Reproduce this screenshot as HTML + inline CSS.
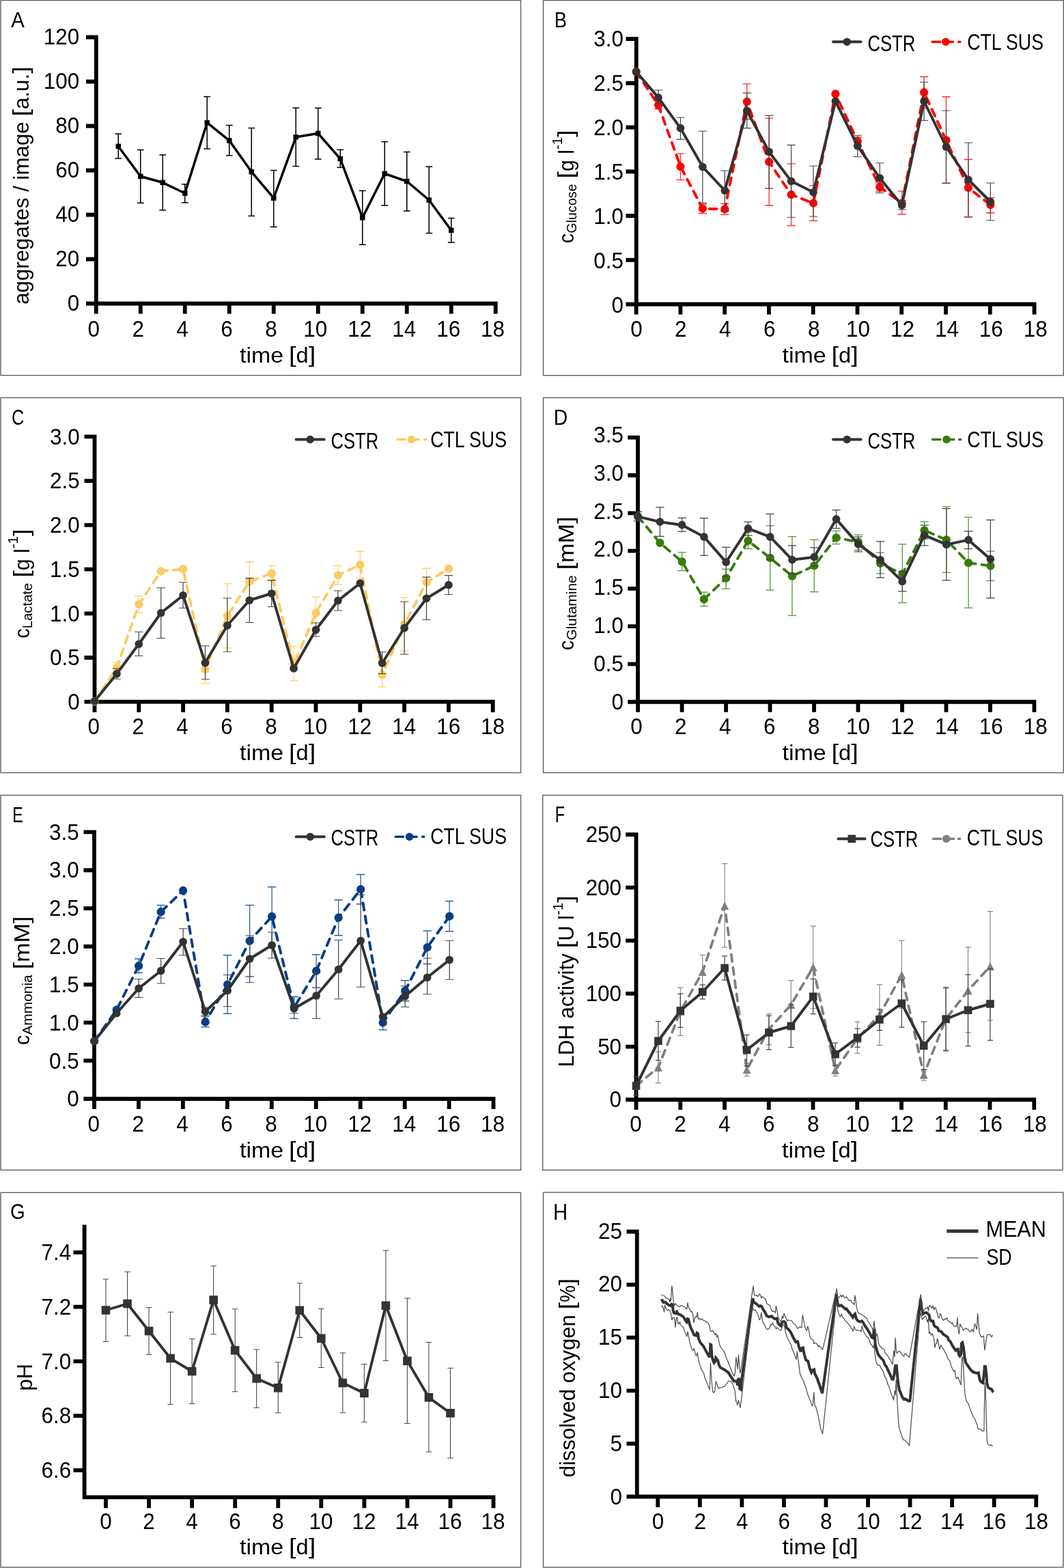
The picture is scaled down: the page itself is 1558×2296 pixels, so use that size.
<!DOCTYPE html>
<html lang="en"><head><meta charset="utf-8"><title>Figure: CSTR vs CTL SUS time courses</title>
<style>html,body{margin:0;padding:0;background:#fff}body{width:1558px;height:2296px;overflow:hidden}svg{display:block}text{font-family:'Liberation Sans', sans-serif;}</style>
</head><body>
<svg width="1558" height="2296" viewBox="0 0 1558 2296" role="img" aria-label="Eight-panel figure A to H: time courses of CSTR and CTL SUS cultures">
<rect width="1558" height="2296" fill="#fff"/>
<g id="pA">
<rect x="1" y="0.5" width="761.6" height="549.1" fill="none" stroke="#555" stroke-width="1.3"/>
<text transform="translate(16.34 39.95) scale(0.9371 1.0286)" font-size="31.3" fill="#000">A</text>
<path d="M140.8 51.6V447.4M126 444.5H728.65M126 379.5H140.8M126 314.5H140.8M126 249.5H140.8M126 184.5H140.8M126 119.5H140.8M126 54.5H140.8M140.75 444.5V459.6M205.75 444.5V459.6M270.75 444.5V459.6M335.75 444.5V459.6M400.75 444.5V459.6M465.75 444.5V459.6M530.75 444.5V459.6M595.75 444.5V459.6M660.75 444.5V459.6M725.75 444.5V459.6" stroke="#000" stroke-width="5.8" fill="none"/>
<text transform="translate(98.81 455) scale(0.9704 1)" font-size="32.4" fill="#000">0</text>
<text transform="translate(81.33 390) scale(0.9704 1)" font-size="32.4" fill="#000">20</text>
<text transform="translate(81.33 325) scale(0.9704 1)" font-size="32.4" fill="#000">40</text>
<text transform="translate(81.33 260) scale(0.9704 1)" font-size="32.4" fill="#000">60</text>
<text transform="translate(81.33 195) scale(0.9704 1)" font-size="32.4" fill="#000">80</text>
<text transform="translate(63.84 130) scale(0.9704 1)" font-size="32.4" fill="#000">100</text>
<text transform="translate(63.84 65) scale(0.9704 1)" font-size="32.4" fill="#000">120</text>
<text transform="translate(128.46 493.2) scale(0.9704 1)" font-size="32.4" fill="#000">0</text>
<text transform="translate(193.39 493.2) scale(0.9704 1)" font-size="32.4" fill="#000">2</text>
<text transform="translate(258.32 493.2) scale(0.9704 1)" font-size="32.4" fill="#000">4</text>
<text transform="translate(323.25 493.2) scale(0.9704 1)" font-size="32.4" fill="#000">6</text>
<text transform="translate(388.18 493.2) scale(0.9704 1)" font-size="32.4" fill="#000">8</text>
<text transform="translate(444.36 493.2) scale(0.9704 1)" font-size="32.4" fill="#000">10</text>
<text transform="translate(509.29 493.2) scale(0.9704 1)" font-size="32.4" fill="#000">12</text>
<text transform="translate(574.22 493.2) scale(0.9704 1)" font-size="32.4" fill="#000">14</text>
<text transform="translate(639.15 493.2) scale(0.9704 1)" font-size="32.4" fill="#000">16</text>
<text transform="translate(704.08 493.2) scale(0.9704 1)" font-size="32.4" fill="#000">18</text>
<text font-size="31.3" fill="#000" xml:space="preserve"><tspan x="351" y="531" font-size="31.3" textLength="64.2" lengthAdjust="spacingAndGlyphs">time</tspan><tspan> </tspan><tspan x="423" y="530" font-size="31.3" textLength="10.58" lengthAdjust="spacingAndGlyphs">[</tspan><tspan x="433.58" y="531" font-size="31.3" textLength="18.13" lengthAdjust="spacingAndGlyphs">d</tspan><tspan x="451.7" y="530" font-size="31.3" textLength="10.58" lengthAdjust="spacingAndGlyphs">]</tspan></text>
<g transform="translate(42.3 445.8) rotate(-90)">
<text font-size="31.3" fill="#000" xml:space="preserve"><tspan x="0" y="0" font-size="31.3" textLength="267.51" lengthAdjust="spacingAndGlyphs">aggregates / image</tspan><tspan> </tspan><tspan x="275.31" y="-1" font-size="31.3" textLength="10.58" lengthAdjust="spacingAndGlyphs">[</tspan><tspan x="285.89" y="0" font-size="31.3" textLength="52.07" lengthAdjust="spacingAndGlyphs">a.u.</tspan><tspan x="337.96" y="-1" font-size="31.3" textLength="10.58" lengthAdjust="spacingAndGlyphs">]</tspan></text>
</g>
<path d="M173.25 196V232M168.35 196H178.15M168.35 232H178.15M205.75 219.5V297.3M200.85 219.5H210.65M200.85 297.3H210.65M238.25 226.8V307.8M233.35 226.8H243.15M233.35 307.8H243.15M270.75 269.8V296.8M265.85 269.8H275.65M265.85 296.8H275.65M303.25 141.4V218M298.35 141.4H308.15M298.35 218H308.15M335.75 183.5V227.8M330.85 183.5H340.65M330.85 227.8H340.65M368.25 187.5V316.3M363.35 187.5H373.15M363.35 316.3H373.15M400.75 249.5V332.3M395.85 249.5H405.65M395.85 332.3H405.65M433.25 158V243.5M428.35 158H438.15M428.35 243.5H438.15M465.75 158.3V233M460.85 158.3H470.65M460.85 233H470.65M498.25 219.3V245.3M493.35 219.3H503.15M493.35 245.3H503.15M530.75 279.3V358.3M525.85 279.3H535.65M525.85 358.3H535.65M563.25 207.5V300.75M558.35 207.5H568.15M558.35 300.75H568.15M595.75 222.5V309M590.85 222.5H600.65M590.85 309H600.65M628.25 244V341.5M623.35 244H633.15M623.35 341.5H633.15M660.75 319.5V355M655.85 319.5H665.65M655.85 355H665.65" stroke="#000000" stroke-width="1.55" fill="none"/>
<polyline points="173.25,214.3 205.75,258.3 238.25,267.3 270.75,283 303.25,179.7 335.75,205.8 368.25,251.6 400.75,290 433.25,200.8 465.75,195.3 498.25,232.5 530.75,318.75 563.25,254.3 595.75,265.5 628.25,293 660.75,337.3" fill="none" stroke="#000000" stroke-width="3.5" stroke-linejoin="round"/>
<rect x="169.5" y="210.55" width="7.5" height="7.5" fill="#000000"/>
<rect x="202" y="254.55" width="7.5" height="7.5" fill="#000000"/>
<rect x="234.5" y="263.55" width="7.5" height="7.5" fill="#000000"/>
<rect x="267" y="279.25" width="7.5" height="7.5" fill="#000000"/>
<rect x="299.5" y="175.95" width="7.5" height="7.5" fill="#000000"/>
<rect x="332" y="202.05" width="7.5" height="7.5" fill="#000000"/>
<rect x="364.5" y="247.85" width="7.5" height="7.5" fill="#000000"/>
<rect x="397" y="286.25" width="7.5" height="7.5" fill="#000000"/>
<rect x="429.5" y="197.05" width="7.5" height="7.5" fill="#000000"/>
<rect x="462" y="191.55" width="7.5" height="7.5" fill="#000000"/>
<rect x="494.5" y="228.75" width="7.5" height="7.5" fill="#000000"/>
<rect x="527" y="315" width="7.5" height="7.5" fill="#000000"/>
<rect x="559.5" y="250.55" width="7.5" height="7.5" fill="#000000"/>
<rect x="592" y="261.75" width="7.5" height="7.5" fill="#000000"/>
<rect x="624.5" y="289.25" width="7.5" height="7.5" fill="#000000"/>
<rect x="657" y="333.55" width="7.5" height="7.5" fill="#000000"/>
</g>
<g id="pB">
<rect x="795.55" y="0.5" width="761.65" height="549.2" fill="none" stroke="#555" stroke-width="1.3"/>
<text transform="translate(811.65 40.3) scale(0.8764 1.0309)" font-size="31.3" fill="#000">B</text>
<path d="M931.75 54.1V448.4M916.5 445.5H1517.43M916.5 380.75H931.75M916.5 316H931.75M916.5 251.25H931.75M916.5 186.5H931.75M916.5 121.75H931.75M916.5 57H931.75M931.6 445.5V460.6M996.37 445.5V460.6M1061.14 445.5V460.6M1125.91 445.5V460.6M1190.68 445.5V460.6M1255.45 445.5V460.6M1320.22 445.5V460.6M1384.99 445.5V460.6M1449.76 445.5V460.6M1514.53 445.5V460.6" stroke="#000" stroke-width="5.8" fill="none"/>
<text transform="translate(895.56 457.55) scale(0.9704 1)" font-size="32.4" fill="#000">0</text>
<text transform="translate(869.37 392.68) scale(0.9698 1)" font-size="32.4" fill="#000">0.5</text>
<text transform="translate(869.37 327.8) scale(0.9698 1)" font-size="32.4" fill="#000">1.0</text>
<text transform="translate(869.37 262.93) scale(0.9698 1)" font-size="32.4" fill="#000">1.5</text>
<text transform="translate(869.37 198.05) scale(0.9698 1)" font-size="32.4" fill="#000">2.0</text>
<text transform="translate(869.37 133.18) scale(0.9698 1)" font-size="32.4" fill="#000">2.5</text>
<text transform="translate(869.37 68.3) scale(0.9698 1)" font-size="32.4" fill="#000">3.0</text>
<text transform="translate(923.16 493.3) scale(0.9704 1)" font-size="32.4" fill="#000">0</text>
<text transform="translate(988.09 493.3) scale(0.9704 1)" font-size="32.4" fill="#000">2</text>
<text transform="translate(1053.02 493.3) scale(0.9704 1)" font-size="32.4" fill="#000">4</text>
<text transform="translate(1117.95 493.3) scale(0.9704 1)" font-size="32.4" fill="#000">6</text>
<text transform="translate(1182.88 493.3) scale(0.9704 1)" font-size="32.4" fill="#000">8</text>
<text transform="translate(1239.06 493.3) scale(0.9704 1)" font-size="32.4" fill="#000">10</text>
<text transform="translate(1303.99 493.3) scale(0.9704 1)" font-size="32.4" fill="#000">12</text>
<text transform="translate(1368.92 493.3) scale(0.9704 1)" font-size="32.4" fill="#000">14</text>
<text transform="translate(1433.85 493.3) scale(0.9704 1)" font-size="32.4" fill="#000">16</text>
<text transform="translate(1498.78 493.3) scale(0.9704 1)" font-size="32.4" fill="#000">18</text>
<text font-size="31.3" fill="#000" xml:space="preserve"><tspan x="1145.45" y="530.5" font-size="31.3" textLength="64.2" lengthAdjust="spacingAndGlyphs">time</tspan><tspan> </tspan><tspan x="1217.45" y="529.5" font-size="31.3" textLength="10.58" lengthAdjust="spacingAndGlyphs">[</tspan><tspan x="1228.03" y="530.5" font-size="31.3" textLength="18.13" lengthAdjust="spacingAndGlyphs">d</tspan><tspan x="1246.15" y="529.5" font-size="31.3" textLength="10.58" lengthAdjust="spacingAndGlyphs">]</tspan></text>
<g transform="translate(839.8 356.2) rotate(-90)">
<text font-size="31.3" fill="#000" xml:space="preserve"><tspan x="0" y="0" font-size="31.3" textLength="14.59" lengthAdjust="spacingAndGlyphs">c</tspan><tspan x="14.59" y="4.4" font-size="20.35" textLength="72.31" lengthAdjust="spacingAndGlyphs">Glucose</tspan><tspan> </tspan><tspan x="94.7" y="-1" font-size="31.3" textLength="10.58" lengthAdjust="spacingAndGlyphs">[</tspan><tspan x="105.28" y="0" font-size="31.3" textLength="31.96" lengthAdjust="spacingAndGlyphs">g l</tspan><tspan x="137.24" y="-16.6" font-size="20.35" textLength="18.23" lengthAdjust="spacingAndGlyphs">-1</tspan><tspan x="155.47" y="-1" font-size="31.3" textLength="10.58" lengthAdjust="spacingAndGlyphs">]</tspan></text>
</g>
<path d="M964.02 148.3V159.7M957.87 148.3H970.17M957.87 159.7H970.17M996.44 224.8V263.3M990.29 224.8H1002.59M990.29 263.3H1002.59M1028.86 298.75V312.5M1022.71 298.75H1035.01M1022.71 312.5H1035.01M1061.28 298.25V314.25M1055.13 298.25H1067.43M1055.13 314.25H1067.43M1093.7 122.9V174.5M1087.55 122.9H1099.85M1087.55 174.5H1099.85M1126.12 173.2V300.75M1119.97 173.2H1132.27M1119.97 300.75H1132.27M1158.54 239.8V330.5M1152.39 239.8H1164.69M1152.39 330.5H1164.69M1190.96 271.7V323.25M1184.81 271.7H1197.11M1184.81 323.25H1197.11M1255.8 201V213M1249.65 201H1261.95M1249.65 213H1261.95M1288.22 267.5V280M1282.07 267.5H1294.37M1282.07 280H1294.37M1320.64 279.8V313.75M1314.49 279.8H1326.79M1314.49 313.75H1326.79M1353.06 112.25V158.3M1346.91 112.25H1359.21M1346.91 158.3H1359.21M1385.48 141.75V268.25M1379.33 141.75H1391.63M1379.33 268.25H1391.63M1417.9 233.5V317.75M1411.75 233.5H1424.05M1411.75 317.75H1424.05M1450.32 289.5V311.75M1444.17 289.5H1456.47M1444.17 311.75H1456.47" stroke="#FF0000" stroke-width="1.3" stroke-opacity="0.82" fill="none"/>
<polyline points="931.6,105 964.02,154 996.44,244 1028.86,305.5 1061.28,306.25 1093.7,149 1126.12,237 1158.54,285 1190.96,297.5 1223.38,137.5 1255.8,207 1288.22,273.75 1320.64,297.5 1353.06,135.25 1385.48,205.5 1417.9,275 1450.32,300" fill="none" stroke="#FF0000" stroke-width="3.9" stroke-linejoin="round" stroke-dasharray="10.6 8.9" stroke-linecap="round"/>
<circle cx="931.6" cy="105" r="6.15" fill="#FF0000"/>
<circle cx="964.02" cy="154" r="6.15" fill="#FF0000"/>
<circle cx="996.44" cy="244" r="6.15" fill="#FF0000"/>
<circle cx="1028.86" cy="305.5" r="6.15" fill="#FF0000"/>
<circle cx="1061.28" cy="306.25" r="6.15" fill="#FF0000"/>
<circle cx="1093.7" cy="149" r="6.15" fill="#FF0000"/>
<circle cx="1126.12" cy="237" r="6.15" fill="#FF0000"/>
<circle cx="1158.54" cy="285" r="6.15" fill="#FF0000"/>
<circle cx="1190.96" cy="297.5" r="6.15" fill="#FF0000"/>
<circle cx="1223.38" cy="137.5" r="6.15" fill="#FF0000"/>
<circle cx="1255.8" cy="207" r="6.15" fill="#FF0000"/>
<circle cx="1288.22" cy="273.75" r="6.15" fill="#FF0000"/>
<circle cx="1320.64" cy="297.5" r="6.15" fill="#FF0000"/>
<circle cx="1353.06" cy="135.25" r="6.15" fill="#FF0000"/>
<circle cx="1385.48" cy="205.5" r="6.15" fill="#FF0000"/>
<circle cx="1417.9" cy="275" r="6.15" fill="#FF0000"/>
<circle cx="1450.32" cy="300" r="6.15" fill="#FF0000"/>
<path d="M964.02 132V152.5M957.87 132H970.17M957.87 152.5H970.17M996.44 172V204.2M990.29 172H1002.59M990.29 204.2H1002.59M1028.86 192V297M1022.71 192H1035.01M1022.71 297H1035.01M1061.28 250V309.5M1055.13 250H1067.43M1055.13 309.5H1067.43M1093.7 136.2V187.7M1087.55 136.2H1099.85M1087.55 187.7H1099.85M1126.12 169.2V275.8M1119.97 169.2H1132.27M1119.97 275.8H1132.27M1158.54 212.3V318.25M1152.39 212.3H1164.69M1152.39 318.25H1164.69M1190.96 243V317M1184.81 243H1197.11M1184.81 317H1197.11M1255.8 198.25V229.5M1249.65 198.25H1261.95M1249.65 229.5H1261.95M1288.22 238.75V282.5M1282.07 238.75H1294.37M1282.07 282.5H1294.37M1320.64 293.75V307M1314.49 293.75H1326.79M1314.49 307H1326.79M1353.06 120.25V176.5M1346.91 120.25H1359.21M1346.91 176.5H1359.21M1385.48 162V268.25M1379.33 162H1391.63M1379.33 268.25H1391.63M1417.9 209V317.75M1411.75 209H1424.05M1411.75 317.75H1424.05M1450.32 268V322.75M1444.17 268H1456.47M1444.17 322.75H1456.47" stroke="#444444" stroke-width="1.22" fill="none"/>
<polyline points="931.6,105 964.02,142.9 996.44,187.7 1028.86,244.3 1061.28,279 1093.7,162.2 1126.12,222.3 1158.54,265.3 1190.96,281.5 1223.38,148.25 1255.8,213.75 1288.22,260.75 1320.64,300.5 1353.06,148.25 1385.48,215 1417.9,263 1450.32,295.5" fill="none" stroke="#333333" stroke-width="4" stroke-linejoin="round"/>
<circle cx="931.6" cy="105" r="5.85" fill="#333333"/>
<circle cx="964.02" cy="142.9" r="5.85" fill="#333333"/>
<circle cx="996.44" cy="187.7" r="5.85" fill="#333333"/>
<circle cx="1028.86" cy="244.3" r="5.85" fill="#333333"/>
<circle cx="1061.28" cy="279" r="5.85" fill="#333333"/>
<circle cx="1093.7" cy="162.2" r="5.85" fill="#333333"/>
<circle cx="1126.12" cy="222.3" r="5.85" fill="#333333"/>
<circle cx="1158.54" cy="265.3" r="5.85" fill="#333333"/>
<circle cx="1190.96" cy="281.5" r="5.85" fill="#333333"/>
<circle cx="1223.38" cy="148.25" r="5.85" fill="#333333"/>
<circle cx="1255.8" cy="213.75" r="5.85" fill="#333333"/>
<circle cx="1288.22" cy="260.75" r="5.85" fill="#333333"/>
<circle cx="1320.64" cy="300.5" r="5.85" fill="#333333"/>
<circle cx="1353.06" cy="148.25" r="5.85" fill="#333333"/>
<circle cx="1385.48" cy="215" r="5.85" fill="#333333"/>
<circle cx="1417.9" cy="263" r="5.85" fill="#333333"/>
<circle cx="1450.32" cy="295.5" r="5.85" fill="#333333"/>
<line x1="1219.9" y1="61.25" x2="1260.6" y2="61.25" stroke="#333333" stroke-width="3.8" stroke-linecap="round"/>
<circle cx="1240.25" cy="61.25" r="5.75" fill="#333333"/>
<path d="M1365.3 61.25H1376.4M1389.75 61.25H1395.35M1403.7 61.25H1405.7" stroke="#FF0000" stroke-width="3.7" stroke-linecap="round" fill="none"/>
<circle cx="1384.75" cy="61.25" r="5.8" fill="#FF0000"/>
<text transform="translate(1270.4 74.8) scale(0.7913 1)" font-size="32.4" fill="#000">CSTR</text>
<text transform="translate(1416.15 72.8) scale(0.8247 1)" font-size="32.4" fill="#000" xml:space="preserve">CTL SUS</text>
</g>
<g id="pC">
<rect x="1" y="582.4" width="761.6" height="549.1" fill="none" stroke="#555" stroke-width="1.3"/>
<text transform="translate(17.12 621.69) scale(0.8072 1.0063)" font-size="31.3" fill="#000">C</text>
<path d="M138.5 636.54V1030.6M123.5 1027.7H724.6M123.5 962.99H138.5M123.5 898.28H138.5M123.5 833.57H138.5M123.5 768.86H138.5M123.5 704.15H138.5M123.5 639.44H138.5M138.5 1027.7V1042.9M203.3 1027.7V1042.9M268.1 1027.7V1042.9M332.9 1027.7V1042.9M397.7 1027.7V1042.9M462.5 1027.7V1042.9M527.3 1027.7V1042.9M592.1 1027.7V1042.9M656.9 1027.7V1042.9M721.7 1027.7V1042.9" stroke="#000" stroke-width="5.8" fill="none"/>
<text transform="translate(99.31 1039) scale(0.9704 1)" font-size="32.4" fill="#000">0</text>
<text transform="translate(73.12 974.25) scale(0.9698 1)" font-size="32.4" fill="#000">0.5</text>
<text transform="translate(73.12 909.5) scale(0.9698 1)" font-size="32.4" fill="#000">1.0</text>
<text transform="translate(73.12 844.75) scale(0.9698 1)" font-size="32.4" fill="#000">1.5</text>
<text transform="translate(73.12 780) scale(0.9698 1)" font-size="32.4" fill="#000">2.0</text>
<text transform="translate(73.12 715.25) scale(0.9698 1)" font-size="32.4" fill="#000">2.5</text>
<text transform="translate(73.12 650.5) scale(0.9698 1)" font-size="32.4" fill="#000">3.0</text>
<text transform="translate(128.46 1075.35) scale(0.9704 1)" font-size="32.4" fill="#000">0</text>
<text transform="translate(193.39 1075.35) scale(0.9704 1)" font-size="32.4" fill="#000">2</text>
<text transform="translate(258.32 1075.35) scale(0.9704 1)" font-size="32.4" fill="#000">4</text>
<text transform="translate(323.25 1075.35) scale(0.9704 1)" font-size="32.4" fill="#000">6</text>
<text transform="translate(388.18 1075.35) scale(0.9704 1)" font-size="32.4" fill="#000">8</text>
<text transform="translate(444.36 1075.35) scale(0.9704 1)" font-size="32.4" fill="#000">10</text>
<text transform="translate(509.29 1075.35) scale(0.9704 1)" font-size="32.4" fill="#000">12</text>
<text transform="translate(574.22 1075.35) scale(0.9704 1)" font-size="32.4" fill="#000">14</text>
<text transform="translate(639.15 1075.35) scale(0.9704 1)" font-size="32.4" fill="#000">16</text>
<text transform="translate(704.08 1075.35) scale(0.9704 1)" font-size="32.4" fill="#000">18</text>
<text font-size="31.3" fill="#000" xml:space="preserve"><tspan x="350.95" y="1112.8" font-size="31.3" textLength="64.2" lengthAdjust="spacingAndGlyphs">time</tspan><tspan> </tspan><tspan x="422.95" y="1111.8" font-size="31.3" textLength="10.58" lengthAdjust="spacingAndGlyphs">[</tspan><tspan x="433.53" y="1112.8" font-size="31.3" textLength="18.13" lengthAdjust="spacingAndGlyphs">d</tspan><tspan x="451.65" y="1111.8" font-size="31.3" textLength="10.58" lengthAdjust="spacingAndGlyphs">]</tspan></text>
<g transform="translate(42.6 934.8) rotate(-90)">
<text font-size="31.3" fill="#000" xml:space="preserve"><tspan x="0" y="0" font-size="31.3" textLength="14.59" lengthAdjust="spacingAndGlyphs">c</tspan><tspan x="14.59" y="4.4" font-size="20.35" textLength="66.57" lengthAdjust="spacingAndGlyphs">Lactate</tspan><tspan> </tspan><tspan x="88.96" y="-1" font-size="31.3" textLength="10.58" lengthAdjust="spacingAndGlyphs">[</tspan><tspan x="99.54" y="0" font-size="31.3" textLength="31.96" lengthAdjust="spacingAndGlyphs">g l</tspan><tspan x="131.5" y="-16.6" font-size="20.35" textLength="18.23" lengthAdjust="spacingAndGlyphs">-1</tspan><tspan x="149.73" y="-1" font-size="31.3" textLength="10.58" lengthAdjust="spacingAndGlyphs">]</tspan></text>
</g>
<path d="M170.9 970.25V985.25M164.75 970.25H177.05M164.75 985.25H177.05M203.3 872.75V897.25M197.15 872.75H209.45M197.15 897.25H209.45M300.5 959V1000.5M294.35 959H306.65M294.35 1000.5H306.65M332.9 854.5V949M326.75 854.5H339.05M326.75 949H339.05M365.3 822.75V880.25M359.15 822.75H371.45M359.15 880.25H371.45M397.7 828.25V851.25M391.55 828.25H403.85M391.55 851.25H403.85M430.1 946.5V996.75M423.95 946.5H436.25M423.95 996.75H436.25M462.5 874V921.25M456.35 874H468.65M456.35 921.25H468.65M494.9 828.25V855.75M488.75 828.25H501.05M488.75 855.75H501.05M527.3 807.25V847.25M521.15 807.25H533.45M521.15 847.25H533.45M559.7 970.75V1005.75M553.55 970.75H565.85M553.55 1005.75H565.85M592.1 875V953M585.95 875H598.25M585.95 953H598.25M624.5 832.25V873.25M618.35 832.25H630.65M618.35 873.25H630.65" stroke="#FCCB62" stroke-width="1.3" stroke-opacity="0.82" fill="none"/>
<polyline points="138.5,1027.25 170.9,977.75 203.3,885 235.7,836.5 268.1,833.25 300.5,980.25 332.9,902 365.3,851.5 397.7,839.75 430.1,972.75 462.5,897.75 494.9,842.25 527.3,827.25 559.7,988.25 592.1,914 624.5,852.75 656.9,832.75" fill="none" stroke="#FCCB62" stroke-width="3.9" stroke-linejoin="round" stroke-dasharray="10.6 8.9" stroke-linecap="round"/>
<circle cx="138.5" cy="1027.25" r="6.15" fill="#FCCB62"/>
<circle cx="170.9" cy="977.75" r="6.15" fill="#FCCB62"/>
<circle cx="203.3" cy="885" r="6.15" fill="#FCCB62"/>
<circle cx="235.7" cy="836.5" r="6.15" fill="#FCCB62"/>
<circle cx="268.1" cy="833.25" r="6.15" fill="#FCCB62"/>
<circle cx="300.5" cy="980.25" r="6.15" fill="#FCCB62"/>
<circle cx="332.9" cy="902" r="6.15" fill="#FCCB62"/>
<circle cx="365.3" cy="851.5" r="6.15" fill="#FCCB62"/>
<circle cx="397.7" cy="839.75" r="6.15" fill="#FCCB62"/>
<circle cx="430.1" cy="972.75" r="6.15" fill="#FCCB62"/>
<circle cx="462.5" cy="897.75" r="6.15" fill="#FCCB62"/>
<circle cx="494.9" cy="842.25" r="6.15" fill="#FCCB62"/>
<circle cx="527.3" cy="827.25" r="6.15" fill="#FCCB62"/>
<circle cx="559.7" cy="988.25" r="6.15" fill="#FCCB62"/>
<circle cx="592.1" cy="914" r="6.15" fill="#FCCB62"/>
<circle cx="624.5" cy="852.75" r="6.15" fill="#FCCB62"/>
<circle cx="656.9" cy="832.75" r="6.15" fill="#FCCB62"/>
<path d="M170.9 979V994.25M164.75 979H177.05M164.75 994.25H177.05M203.3 925.25V960.25M197.15 925.25H209.45M197.15 960.25H209.45M235.7 860.75V934.5M229.55 860.75H241.85M229.55 934.5H241.85M268.1 852.75V890.25M261.95 852.75H274.25M261.95 890.25H274.25M300.5 945.75V994.75M294.35 945.75H306.65M294.35 994.75H306.65M332.9 876V954.25M326.75 876H339.05M326.75 954.25H339.05M365.3 846.55V911.5M359.15 846.55H371.45M359.15 911.5H371.45M397.7 849.55V888.5M391.55 849.55H403.85M391.55 888.5H403.85M462.5 912V932M456.35 912H468.65M456.35 932H468.65M494.9 865V894M488.75 865H501.05M488.75 894H501.05M559.7 954.75V986.5M553.55 954.75H565.85M553.55 986.5H565.85M592.1 881V958M585.95 881H598.25M585.95 958H598.25M624.5 845.05V907.5M618.35 845.05H630.65M618.35 907.5H630.65M656.9 842.55V870.5M650.75 842.55H663.05M650.75 870.5H663.05" stroke="#444444" stroke-width="1.22" fill="none"/>
<polyline points="138.5,1026.75 170.9,986.75 203.3,943 235.7,897.5 268.1,871.75 300.5,970.5 332.9,915.75 365.3,879 397.7,869 430.1,978.75 462.5,922.25 494.9,879.5 527.3,854 559.7,971 592.1,919.5 624.5,876.25 656.9,856.5" fill="none" stroke="#333333" stroke-width="4" stroke-linejoin="round"/>
<circle cx="138.5" cy="1026.75" r="5.85" fill="#333333"/>
<circle cx="170.9" cy="986.75" r="5.85" fill="#333333"/>
<circle cx="203.3" cy="943" r="5.85" fill="#333333"/>
<circle cx="235.7" cy="897.5" r="5.85" fill="#333333"/>
<circle cx="268.1" cy="871.75" r="5.85" fill="#333333"/>
<circle cx="300.5" cy="970.5" r="5.85" fill="#333333"/>
<circle cx="332.9" cy="915.75" r="5.85" fill="#333333"/>
<circle cx="365.3" cy="879" r="5.85" fill="#333333"/>
<circle cx="397.7" cy="869" r="5.85" fill="#333333"/>
<circle cx="430.1" cy="978.75" r="5.85" fill="#333333"/>
<circle cx="462.5" cy="922.25" r="5.85" fill="#333333"/>
<circle cx="494.9" cy="879.5" r="5.85" fill="#333333"/>
<circle cx="527.3" cy="854" r="5.85" fill="#333333"/>
<circle cx="559.7" cy="971" r="5.85" fill="#333333"/>
<circle cx="592.1" cy="919.5" r="5.85" fill="#333333"/>
<circle cx="624.5" cy="876.25" r="5.85" fill="#333333"/>
<circle cx="656.9" cy="856.5" r="5.85" fill="#333333"/>
<line x1="433.65" y1="643.5" x2="474.85" y2="643.5" stroke="#333333" stroke-width="3.8" stroke-linecap="round"/>
<circle cx="454.25" cy="643.5" r="5.75" fill="#333333"/>
<path d="M582.3 643.5H593.4M607.5 643.5H613.1M621.7 643.5H623.7" stroke="#FCCB62" stroke-width="3.7" stroke-linecap="round" fill="none"/>
<circle cx="602.5" cy="643.5" r="5.8" fill="#FCCB62"/>
<text transform="translate(484.4 656.6) scale(0.7913 1)" font-size="32.4" fill="#000">CSTR</text>
<text transform="translate(630.15 654.6) scale(0.8247 1)" font-size="32.4" fill="#000" xml:space="preserve">CTL SUS</text>
</g>
<g id="pD">
<rect x="795.55" y="582.4" width="761.65" height="549.1" fill="none" stroke="#555" stroke-width="1.3"/>
<text transform="translate(810.67 621.6) scale(0.9062 1.0124)" font-size="31.3" fill="#000">D</text>
<path d="M934 637.82V1030.65M919.25 1027.75H1517.32M919.25 972.46H934M919.25 917.17H934M919.25 861.88H934M919.25 806.59H934M919.25 751.3H934M919.25 696.01H934M919.25 640.72H934M934.1 1027.75V1042.8M998.58 1027.75V1042.8M1063.06 1027.75V1042.8M1127.54 1027.75V1042.8M1192.02 1027.75V1042.8M1256.5 1027.75V1042.8M1320.98 1027.75V1042.8M1385.46 1027.75V1042.8M1449.94 1027.75V1042.8M1514.42 1027.75V1042.8" stroke="#000" stroke-width="5.8" fill="none"/>
<text transform="translate(895.56 1038.8) scale(0.9704 1)" font-size="32.4" fill="#000">0</text>
<text transform="translate(869.37 982.94) scale(0.9698 1)" font-size="32.4" fill="#000">0.5</text>
<text transform="translate(869.37 927.08) scale(0.9698 1)" font-size="32.4" fill="#000">1.0</text>
<text transform="translate(869.37 871.22) scale(0.9698 1)" font-size="32.4" fill="#000">1.5</text>
<text transform="translate(869.37 815.36) scale(0.9698 1)" font-size="32.4" fill="#000">2.0</text>
<text transform="translate(869.37 759.5) scale(0.9698 1)" font-size="32.4" fill="#000">2.5</text>
<text transform="translate(869.37 703.64) scale(0.9698 1)" font-size="32.4" fill="#000">3.0</text>
<text transform="translate(869.37 647.78) scale(0.9698 1)" font-size="32.4" fill="#000">3.5</text>
<text transform="translate(923.16 1075.3) scale(0.9704 1)" font-size="32.4" fill="#000">0</text>
<text transform="translate(988.09 1075.3) scale(0.9704 1)" font-size="32.4" fill="#000">2</text>
<text transform="translate(1053.02 1075.3) scale(0.9704 1)" font-size="32.4" fill="#000">4</text>
<text transform="translate(1117.95 1075.3) scale(0.9704 1)" font-size="32.4" fill="#000">6</text>
<text transform="translate(1182.88 1075.3) scale(0.9704 1)" font-size="32.4" fill="#000">8</text>
<text transform="translate(1239.06 1075.3) scale(0.9704 1)" font-size="32.4" fill="#000">10</text>
<text transform="translate(1303.99 1075.3) scale(0.9704 1)" font-size="32.4" fill="#000">12</text>
<text transform="translate(1368.92 1075.3) scale(0.9704 1)" font-size="32.4" fill="#000">14</text>
<text transform="translate(1433.85 1075.3) scale(0.9704 1)" font-size="32.4" fill="#000">16</text>
<text transform="translate(1498.78 1075.3) scale(0.9704 1)" font-size="32.4" fill="#000">18</text>
<text font-size="31.3" fill="#000" xml:space="preserve"><tspan x="1145.45" y="1112.8" font-size="31.3" textLength="64.2" lengthAdjust="spacingAndGlyphs">time</tspan><tspan> </tspan><tspan x="1217.45" y="1111.8" font-size="31.3" textLength="10.58" lengthAdjust="spacingAndGlyphs">[</tspan><tspan x="1228.03" y="1112.8" font-size="31.3" textLength="18.13" lengthAdjust="spacingAndGlyphs">d</tspan><tspan x="1246.15" y="1111.8" font-size="31.3" textLength="10.58" lengthAdjust="spacingAndGlyphs">]</tspan></text>
<g transform="translate(839.8 952.2) rotate(-90)">
<text font-size="31.3" fill="#000" xml:space="preserve"><tspan x="0" y="0" font-size="31.3" textLength="14.59" lengthAdjust="spacingAndGlyphs">c</tspan><tspan x="14.59" y="4.4" font-size="20.35" textLength="95.33" lengthAdjust="spacingAndGlyphs">Glutamine</tspan><tspan> </tspan><tspan x="117.72" y="-1" font-size="31.3" textLength="10.58" lengthAdjust="spacingAndGlyphs">[</tspan><tspan x="128.3" y="0" font-size="31.3" textLength="57.06" lengthAdjust="spacingAndGlyphs">mM</tspan><tspan x="185.35" y="-1" font-size="31.3" textLength="10.58" lengthAdjust="spacingAndGlyphs">]</tspan></text>
</g>
<path d="M998.63 808.9V835.65M992.48 808.9H1004.78M992.48 835.65H1004.78M1030.89 867.15V887.65M1024.74 867.15H1037.05M1024.74 887.65H1037.05M1063.16 833.4V862.15M1057.01 833.4H1069.31M1057.01 862.15H1069.31M1095.42 779.15V803.65M1089.27 779.15H1101.58M1089.27 803.65H1101.58M1127.69 769.9V864.15M1121.54 769.9H1133.84M1121.54 864.15H1133.84M1159.95 785.65V901.4M1153.8 785.65H1166.11M1153.8 901.4H1166.11M1192.22 790.4V866.65M1186.07 790.4H1198.37M1186.07 866.65H1198.37M1224.49 777.4V796.65M1218.34 777.4H1230.64M1218.34 796.65H1230.64M1256.75 783.15V805.4M1250.6 783.15H1262.9M1250.6 805.4H1262.9M1289.02 809.15V839.9M1282.87 809.15H1295.17M1282.87 839.9H1295.17M1321.28 796.9V882.65M1315.13 796.9H1327.43M1315.13 882.65H1327.43M1353.55 763.9V789.4M1347.39 763.9H1359.7M1347.39 789.4H1359.7M1385.81 741.9V838.4M1379.66 741.9H1391.96M1379.66 838.4H1391.96M1418.08 757.4V890.15M1411.92 757.4H1424.23M1411.92 890.15H1424.23M1450.34 807.15V850.4M1444.19 807.15H1456.49M1444.19 850.4H1456.49" stroke="#387C0A" stroke-width="1.3" stroke-opacity="0.82" fill="none"/>
<polyline points="934.1,756.4 966.37,794.9 998.63,822.4 1030.89,877.4 1063.16,846.65 1095.42,791.9 1127.69,816.9 1159.95,843.65 1192.22,828.4 1224.49,787.4 1256.75,793.65 1289.02,824.9 1321.28,840.4 1353.55,776.65 1385.81,790.4 1418.08,824.15 1450.34,828.65" fill="none" stroke="#387C0A" stroke-width="3.9" stroke-linejoin="round" stroke-dasharray="10.6 8.9" stroke-linecap="round"/>
<circle cx="934.1" cy="756.4" r="6.15" fill="#387C0A"/>
<circle cx="966.37" cy="794.9" r="6.15" fill="#387C0A"/>
<circle cx="998.63" cy="822.4" r="6.15" fill="#387C0A"/>
<circle cx="1030.89" cy="877.4" r="6.15" fill="#387C0A"/>
<circle cx="1063.16" cy="846.65" r="6.15" fill="#387C0A"/>
<circle cx="1095.42" cy="791.9" r="6.15" fill="#387C0A"/>
<circle cx="1127.69" cy="816.9" r="6.15" fill="#387C0A"/>
<circle cx="1159.95" cy="843.65" r="6.15" fill="#387C0A"/>
<circle cx="1192.22" cy="828.4" r="6.15" fill="#387C0A"/>
<circle cx="1224.49" cy="787.4" r="6.15" fill="#387C0A"/>
<circle cx="1256.75" cy="793.65" r="6.15" fill="#387C0A"/>
<circle cx="1289.02" cy="824.9" r="6.15" fill="#387C0A"/>
<circle cx="1321.28" cy="840.4" r="6.15" fill="#387C0A"/>
<circle cx="1353.55" cy="776.65" r="6.15" fill="#387C0A"/>
<circle cx="1385.81" cy="790.4" r="6.15" fill="#387C0A"/>
<circle cx="1418.08" cy="824.15" r="6.15" fill="#387C0A"/>
<circle cx="1450.34" cy="828.65" r="6.15" fill="#387C0A"/>
<path d="M934.1 749.4V762.9M927.95 749.4H940.25M927.95 762.9H940.25M966.37 742.9V785.4M960.22 742.9H972.51M960.22 785.4H972.51M998.63 758.4V778.4M992.48 758.4H1004.78M992.48 778.4H1004.78M1030.89 758.65V813.4M1024.74 758.65H1037.05M1024.74 813.4H1037.05M1063.16 801.4V844.15M1057.01 801.4H1069.31M1057.01 844.15H1069.31M1095.42 764.15V784.15M1089.27 764.15H1101.58M1089.27 784.15H1101.58M1127.69 752.65V819.65M1121.54 752.65H1133.84M1121.54 819.65H1133.84M1159.95 798.9V840.4M1153.8 798.9H1166.11M1153.8 840.4H1166.11M1192.22 801.9V829.4M1186.07 801.9H1198.37M1186.07 829.4H1198.37M1224.49 746.9V773.65M1218.34 746.9H1230.64M1218.34 773.65H1230.64M1256.75 786.15V807.9M1250.6 786.15H1262.9M1250.6 807.9H1262.9M1289.02 792.9V845.9M1282.87 792.9H1295.17M1282.87 845.9H1295.17M1321.28 836.9V865.9M1315.13 836.9H1327.43M1315.13 865.9H1327.43M1353.55 769.15V798.9M1347.39 769.15H1359.7M1347.39 798.9H1359.7M1385.81 744.65V849.65M1379.66 744.65H1391.96M1379.66 849.65H1391.96M1418.08 777.9V803.65M1411.92 777.9H1424.23M1411.92 803.65H1424.23M1450.34 761.4V875.65M1444.19 761.4H1456.49M1444.19 875.65H1456.49" stroke="#444444" stroke-width="1.22" fill="none"/>
<polyline points="934.1,756.4 966.37,764.15 998.63,768.65 1030.89,786.15 1063.16,823.15 1095.42,773.9 1127.69,786.15 1159.95,819.65 1192.22,815.65 1224.49,760.15 1256.75,796.9 1289.02,819.9 1321.28,851.4 1353.55,783.65 1385.81,797.4 1418.08,790.65 1450.34,818.65" fill="none" stroke="#333333" stroke-width="4" stroke-linejoin="round"/>
<circle cx="934.1" cy="756.4" r="5.85" fill="#333333"/>
<circle cx="966.37" cy="764.15" r="5.85" fill="#333333"/>
<circle cx="998.63" cy="768.65" r="5.85" fill="#333333"/>
<circle cx="1030.89" cy="786.15" r="5.85" fill="#333333"/>
<circle cx="1063.16" cy="823.15" r="5.85" fill="#333333"/>
<circle cx="1095.42" cy="773.9" r="5.85" fill="#333333"/>
<circle cx="1127.69" cy="786.15" r="5.85" fill="#333333"/>
<circle cx="1159.95" cy="819.65" r="5.85" fill="#333333"/>
<circle cx="1192.22" cy="815.65" r="5.85" fill="#333333"/>
<circle cx="1224.49" cy="760.15" r="5.85" fill="#333333"/>
<circle cx="1256.75" cy="796.9" r="5.85" fill="#333333"/>
<circle cx="1289.02" cy="819.9" r="5.85" fill="#333333"/>
<circle cx="1321.28" cy="851.4" r="5.85" fill="#333333"/>
<circle cx="1353.55" cy="783.65" r="5.85" fill="#333333"/>
<circle cx="1385.81" cy="797.4" r="5.85" fill="#333333"/>
<circle cx="1418.08" cy="790.65" r="5.85" fill="#333333"/>
<circle cx="1450.34" cy="818.65" r="5.85" fill="#333333"/>
<line x1="1219.9" y1="643.5" x2="1260.6" y2="643.5" stroke="#333333" stroke-width="3.8" stroke-linecap="round"/>
<circle cx="1240.25" cy="643.5" r="5.75" fill="#333333"/>
<path d="M1365.8 643.5H1376.9M1391 643.5H1396.6M1404.7 643.5H1406.7" stroke="#387C0A" stroke-width="3.7" stroke-linecap="round" fill="none"/>
<circle cx="1386" cy="643.5" r="5.8" fill="#387C0A"/>
<text transform="translate(1270.4 656.6) scale(0.7913 1)" font-size="32.4" fill="#000">CSTR</text>
<text transform="translate(1416.15 654.6) scale(0.8247 1)" font-size="32.4" fill="#000" xml:space="preserve">CTL SUS</text>
</g>
<g id="pE">
<rect x="1" y="1164.4" width="761.6" height="548.9" fill="none" stroke="#555" stroke-width="1.3"/>
<text transform="translate(18.29 1203.8) scale(0.7427 1.0263)" font-size="31.3" fill="#000">E</text>
<path d="M138 1215.57V1611.9M122.5 1609H725.45M122.5 1553.21H138M122.5 1497.42H138M122.5 1441.63H138M122.5 1385.84H138M122.5 1330.05H138M122.5 1274.26H138M122.5 1218.47H138M138 1609V1623.9M202.95 1609V1623.9M267.9 1609V1623.9M332.85 1609V1623.9M397.8 1609V1623.9M462.75 1609V1623.9M527.7 1609V1623.9M592.65 1609V1623.9M657.6 1609V1623.9M722.55 1609V1623.9" stroke="#000" stroke-width="5.8" fill="none"/>
<text transform="translate(98.31 1620.4) scale(0.9704 1)" font-size="32.4" fill="#000">0</text>
<text transform="translate(72.12 1564.58) scale(0.9698 1)" font-size="32.4" fill="#000">0.5</text>
<text transform="translate(72.12 1508.76) scale(0.9698 1)" font-size="32.4" fill="#000">1.0</text>
<text transform="translate(72.12 1452.94) scale(0.9698 1)" font-size="32.4" fill="#000">1.5</text>
<text transform="translate(72.12 1397.12) scale(0.9698 1)" font-size="32.4" fill="#000">2.0</text>
<text transform="translate(72.12 1341.3) scale(0.9698 1)" font-size="32.4" fill="#000">2.5</text>
<text transform="translate(72.12 1285.48) scale(0.9698 1)" font-size="32.4" fill="#000">3.0</text>
<text transform="translate(72.12 1229.66) scale(0.9698 1)" font-size="32.4" fill="#000">3.5</text>
<text transform="translate(128.46 1657.2) scale(0.9704 1)" font-size="32.4" fill="#000">0</text>
<text transform="translate(193.39 1657.2) scale(0.9704 1)" font-size="32.4" fill="#000">2</text>
<text transform="translate(258.32 1657.2) scale(0.9704 1)" font-size="32.4" fill="#000">4</text>
<text transform="translate(323.25 1657.2) scale(0.9704 1)" font-size="32.4" fill="#000">6</text>
<text transform="translate(388.18 1657.2) scale(0.9704 1)" font-size="32.4" fill="#000">8</text>
<text transform="translate(444.36 1657.2) scale(0.9704 1)" font-size="32.4" fill="#000">10</text>
<text transform="translate(509.29 1657.2) scale(0.9704 1)" font-size="32.4" fill="#000">12</text>
<text transform="translate(574.22 1657.2) scale(0.9704 1)" font-size="32.4" fill="#000">14</text>
<text transform="translate(639.15 1657.2) scale(0.9704 1)" font-size="32.4" fill="#000">16</text>
<text transform="translate(704.08 1657.2) scale(0.9704 1)" font-size="32.4" fill="#000">18</text>
<text font-size="31.3" fill="#000" xml:space="preserve"><tspan x="350.95" y="1694.5" font-size="31.3" textLength="64.2" lengthAdjust="spacingAndGlyphs">time</tspan><tspan> </tspan><tspan x="422.95" y="1693.5" font-size="31.3" textLength="10.58" lengthAdjust="spacingAndGlyphs">[</tspan><tspan x="433.53" y="1694.5" font-size="31.3" textLength="18.13" lengthAdjust="spacingAndGlyphs">d</tspan><tspan x="451.65" y="1693.5" font-size="31.3" textLength="10.58" lengthAdjust="spacingAndGlyphs">]</tspan></text>
<g transform="translate(42.8 1530.2) rotate(-90)">
<text font-size="31.3" fill="#000" xml:space="preserve"><tspan x="0" y="0" font-size="31.3" textLength="14.59" lengthAdjust="spacingAndGlyphs">c</tspan><tspan x="14.59" y="4.4" font-size="20.35" textLength="88.3" lengthAdjust="spacingAndGlyphs">Ammonia</tspan><tspan> </tspan><tspan x="110.69" y="-1" font-size="31.3" textLength="10.58" lengthAdjust="spacingAndGlyphs">[</tspan><tspan x="121.27" y="0" font-size="31.3" textLength="57.06" lengthAdjust="spacingAndGlyphs">mM</tspan><tspan x="178.32" y="-1" font-size="31.3" textLength="10.58" lengthAdjust="spacingAndGlyphs">]</tspan></text>
</g>
<path d="M203.15 1404V1424.5M197 1404H209.3M197 1424.5H209.3M235.65 1325.5V1344.5M229.5 1325.5H241.8M229.5 1344.5H241.8M300.65 1488V1503.75M294.5 1488H306.8M294.5 1503.75H306.8M333.15 1398.75V1484.25M327 1398.75H339.3M327 1484.25H339.3M365.65 1325.5V1430M359.5 1325.5H371.8M359.5 1430H371.8M398.15 1298.75V1385M392 1298.75H404.3M392 1385H404.3M430.65 1459.5V1491.5M424.5 1459.5H436.8M424.5 1491.5H436.8M463.15 1397.75V1446.25M457 1397.75H469.3M457 1446.25H469.3M495.65 1317.75V1369.75M489.5 1317.75H501.8M489.5 1369.75H501.8M528.15 1280.5V1323.75M522 1280.5H534.3M522 1323.75H534.3M560.65 1487V1508M554.5 1487H566.8M554.5 1508H566.8M593.15 1435.75V1465.75M587 1435.75H599.3M587 1465.75H599.3M625.65 1363V1411.5M619.5 1363H631.8M619.5 1411.5H631.8M658.15 1319.5V1363.75M652 1319.5H664.3M652 1363.75H664.3" stroke="#083D84" stroke-width="1.3" stroke-opacity="0.82" fill="none"/>
<polyline points="138.15,1524.5 170.65,1478.75 203.15,1414.25 235.65,1335.25 268.15,1304 300.65,1496.5 333.15,1441.75 365.65,1377.75 398.15,1342 430.65,1475 463.15,1421.75 495.65,1343.75 528.15,1302.25 560.65,1497.5 593.15,1450.75 625.65,1387.25 658.15,1341.75" fill="none" stroke="#083D84" stroke-width="3.9" stroke-linejoin="round" stroke-dasharray="10.6 8.9" stroke-linecap="round"/>
<circle cx="138.15" cy="1524.5" r="6.15" fill="#083D84"/>
<circle cx="170.65" cy="1478.75" r="6.15" fill="#083D84"/>
<circle cx="203.15" cy="1414.25" r="6.15" fill="#083D84"/>
<circle cx="235.65" cy="1335.25" r="6.15" fill="#083D84"/>
<circle cx="268.15" cy="1304" r="6.15" fill="#083D84"/>
<circle cx="300.65" cy="1496.5" r="6.15" fill="#083D84"/>
<circle cx="333.15" cy="1441.75" r="6.15" fill="#083D84"/>
<circle cx="365.65" cy="1377.75" r="6.15" fill="#083D84"/>
<circle cx="398.15" cy="1342" r="6.15" fill="#083D84"/>
<circle cx="430.65" cy="1475" r="6.15" fill="#083D84"/>
<circle cx="463.15" cy="1421.75" r="6.15" fill="#083D84"/>
<circle cx="495.65" cy="1343.75" r="6.15" fill="#083D84"/>
<circle cx="528.15" cy="1302.25" r="6.15" fill="#083D84"/>
<circle cx="560.65" cy="1497.5" r="6.15" fill="#083D84"/>
<circle cx="593.15" cy="1450.75" r="6.15" fill="#083D84"/>
<circle cx="625.65" cy="1387.25" r="6.15" fill="#083D84"/>
<circle cx="658.15" cy="1341.75" r="6.15" fill="#083D84"/>
<path d="M203.15 1433.75V1460.5M197 1433.75H209.3M197 1460.5H209.3M235.65 1403.5V1440M229.5 1403.5H241.8M229.5 1440H241.8M268.15 1359.75V1398.75M262 1359.75H274.3M262 1398.75H274.3M300.65 1475V1487.5M294.5 1475H306.8M294.5 1487.5H306.8M333.15 1427.5V1473.75M327 1427.5H339.3M327 1473.75H339.3M365.65 1370V1438.75M359.5 1370H371.8M359.5 1438.75H371.8M398.15 1365V1403M392 1365H404.3M392 1403H404.3M430.65 1470.5V1483.75M424.5 1470.5H436.8M424.5 1483.75H436.8M463.15 1424.5V1491.5M457 1424.5H469.3M457 1491.5H469.3M495.65 1376.5V1462.75M489.5 1376.5H501.8M489.5 1462.75H501.8M528.15 1310.25V1445.25M522 1310.25H534.3M522 1445.25H534.3M593.15 1443.75V1474.5M587 1443.75H599.3M587 1474.5H599.3M625.65 1403V1455.75M619.5 1403H631.8M619.5 1455.75H631.8M658.15 1377.25V1434.25M652 1377.25H664.3M652 1434.25H664.3" stroke="#444444" stroke-width="1.22" fill="none"/>
<polyline points="138.15,1524.5 170.65,1483.75 203.15,1447.25 235.65,1421.5 268.15,1379 300.65,1481.25 333.15,1450.5 365.65,1404 398.15,1384 430.65,1476.75 463.15,1458 495.65,1419.5 528.15,1377.5 560.65,1489.25 593.15,1458.75 625.65,1431.25 658.15,1405.5" fill="none" stroke="#333333" stroke-width="4" stroke-linejoin="round"/>
<circle cx="138.15" cy="1524.5" r="5.85" fill="#333333"/>
<circle cx="170.65" cy="1483.75" r="5.85" fill="#333333"/>
<circle cx="203.15" cy="1447.25" r="5.85" fill="#333333"/>
<circle cx="235.65" cy="1421.5" r="5.85" fill="#333333"/>
<circle cx="268.15" cy="1379" r="5.85" fill="#333333"/>
<circle cx="300.65" cy="1481.25" r="5.85" fill="#333333"/>
<circle cx="333.15" cy="1450.5" r="5.85" fill="#333333"/>
<circle cx="365.65" cy="1404" r="5.85" fill="#333333"/>
<circle cx="398.15" cy="1384" r="5.85" fill="#333333"/>
<circle cx="430.65" cy="1476.75" r="5.85" fill="#333333"/>
<circle cx="463.15" cy="1458" r="5.85" fill="#333333"/>
<circle cx="495.65" cy="1419.5" r="5.85" fill="#333333"/>
<circle cx="528.15" cy="1377.5" r="5.85" fill="#333333"/>
<circle cx="560.65" cy="1489.25" r="5.85" fill="#333333"/>
<circle cx="593.15" cy="1458.75" r="5.85" fill="#333333"/>
<circle cx="625.65" cy="1431.25" r="5.85" fill="#333333"/>
<circle cx="658.15" cy="1405.5" r="5.85" fill="#333333"/>
<line x1="433.65" y1="1225.25" x2="474.85" y2="1225.25" stroke="#333333" stroke-width="3.8" stroke-linecap="round"/>
<circle cx="454.25" cy="1225.25" r="5.75" fill="#333333"/>
<path d="M579.3 1225.25H590.4M604.5 1225.25H610.1M618.7 1225.25H620.7" stroke="#083D84" stroke-width="3.7" stroke-linecap="round" fill="none"/>
<circle cx="599.5" cy="1225.25" r="5.8" fill="#083D84"/>
<text transform="translate(484.4 1238.3) scale(0.7913 1)" font-size="32.4" fill="#000">CSTR</text>
<text transform="translate(630.15 1236.3) scale(0.8247 1)" font-size="32.4" fill="#000" xml:space="preserve">CTL SUS</text>
</g>
<g id="pF">
<rect x="794.7" y="1164.4" width="761.3" height="548.9" fill="none" stroke="#555" stroke-width="1.3"/>
<text transform="translate(812.69 1204) scale(0.7452 1.0356)" font-size="31.3" fill="#000">F</text>
<path d="M931.5 1219.1V1613.15M916.25 1610.25H1517.15M916.25 1532.6H931.5M916.25 1454.95H931.5M916.25 1377.3H931.5M916.25 1299.65H931.5M916.25 1222H931.5M931.5 1610.25V1625.1M996.25 1610.25V1625.1M1061 1610.25V1625.1M1125.75 1610.25V1625.1M1190.5 1610.25V1625.1M1255.25 1610.25V1625.1M1320 1610.25V1625.1M1384.75 1610.25V1625.1M1449.5 1610.25V1625.1M1514.25 1610.25V1625.1" stroke="#000" stroke-width="5.8" fill="none"/>
<text transform="translate(892.61 1621.4) scale(0.9704 1)" font-size="32.4" fill="#000">0</text>
<text transform="translate(875.13 1543.7) scale(0.9704 1)" font-size="32.4" fill="#000">50</text>
<text transform="translate(857.64 1466) scale(0.9704 1)" font-size="32.4" fill="#000">100</text>
<text transform="translate(857.64 1388.3) scale(0.9704 1)" font-size="32.4" fill="#000">150</text>
<text transform="translate(857.64 1310.6) scale(0.9704 1)" font-size="32.4" fill="#000">200</text>
<text transform="translate(857.64 1232.9) scale(0.9704 1)" font-size="32.4" fill="#000">250</text>
<text transform="translate(922.26 1657.2) scale(0.9704 1)" font-size="32.4" fill="#000">0</text>
<text transform="translate(987.19 1657.2) scale(0.9704 1)" font-size="32.4" fill="#000">2</text>
<text transform="translate(1052.12 1657.2) scale(0.9704 1)" font-size="32.4" fill="#000">4</text>
<text transform="translate(1117.05 1657.2) scale(0.9704 1)" font-size="32.4" fill="#000">6</text>
<text transform="translate(1181.98 1657.2) scale(0.9704 1)" font-size="32.4" fill="#000">8</text>
<text transform="translate(1238.16 1657.2) scale(0.9704 1)" font-size="32.4" fill="#000">10</text>
<text transform="translate(1303.09 1657.2) scale(0.9704 1)" font-size="32.4" fill="#000">12</text>
<text transform="translate(1368.02 1657.2) scale(0.9704 1)" font-size="32.4" fill="#000">14</text>
<text transform="translate(1432.95 1657.2) scale(0.9704 1)" font-size="32.4" fill="#000">16</text>
<text transform="translate(1497.88 1657.2) scale(0.9704 1)" font-size="32.4" fill="#000">18</text>
<text font-size="31.3" fill="#000" xml:space="preserve"><tspan x="1144.95" y="1694.5" font-size="31.3" textLength="64.2" lengthAdjust="spacingAndGlyphs">time</tspan><tspan> </tspan><tspan x="1216.95" y="1693.5" font-size="31.3" textLength="10.58" lengthAdjust="spacingAndGlyphs">[</tspan><tspan x="1227.53" y="1694.5" font-size="31.3" textLength="18.13" lengthAdjust="spacingAndGlyphs">d</tspan><tspan x="1245.65" y="1693.5" font-size="31.3" textLength="10.58" lengthAdjust="spacingAndGlyphs">]</tspan></text>
<g transform="translate(840.3 1562.5) rotate(-90)">
<text font-size="31.3" fill="#000" xml:space="preserve"><tspan x="0" y="0" font-size="31.3" textLength="166.28" lengthAdjust="spacingAndGlyphs">LDH activity</tspan><tspan> </tspan><tspan x="174.08" y="-1" font-size="31.3" textLength="10.58" lengthAdjust="spacingAndGlyphs">[</tspan><tspan x="184.66" y="0" font-size="31.3" textLength="37.85" lengthAdjust="spacingAndGlyphs">U l</tspan><tspan x="222.51" y="-16.6" font-size="20.35" textLength="18.23" lengthAdjust="spacingAndGlyphs">-1</tspan><tspan x="240.75" y="-1" font-size="31.3" textLength="10.58" lengthAdjust="spacingAndGlyphs">]</tspan></text>
</g>
<path d="M963.9 1540V1585.75M959.8 1540H968M959.8 1585.75H968M996.3 1446.25V1516.25M992.2 1446.25H1000.4M992.2 1516.25H1000.4M1028.7 1398.25V1448M1024.6 1398.25H1032.8M1024.6 1448H1032.8M1061.1 1264.5V1387M1057 1264.5H1065.2M1057 1387H1065.2M1093.5 1557V1575.5M1089.4 1557H1097.6M1089.4 1575.5H1097.6M1125.9 1484.5V1529.5M1121.8 1484.5H1130M1121.8 1529.5H1130M1158.3 1435.5V1507M1154.2 1435.5H1162.4M1154.2 1507H1162.4M1190.7 1356V1476.5M1186.6 1356H1194.8M1186.6 1476.5H1194.8M1223.1 1558.5V1575.5M1219 1558.5H1227.2M1219 1575.5H1227.2M1255.5 1496V1542.25M1251.4 1496H1259.6M1251.4 1542.25H1259.6M1287.9 1441.75V1530.5M1283.8 1441.75H1292M1283.8 1530.5H1292M1320.3 1377V1476.25M1316.2 1377H1324.4M1316.2 1476.25H1324.4M1352.7 1565.5V1582M1348.6 1565.5H1356.8M1348.6 1582H1356.8M1385.1 1447V1537.5M1381 1447H1389.2M1381 1537.5H1389.2M1417.5 1386.75V1511.75M1413.4 1386.75H1421.6M1413.4 1511.75H1421.6M1449.9 1334.5V1494M1445.8 1334.5H1454M1445.8 1494H1454" stroke="#8c8c8c" stroke-width="1.25" fill="none"/>
<polyline points="931.5,1590 963.9,1563 996.3,1481 1028.7,1423 1061.1,1326.25 1093.5,1566.25 1125.9,1507 1158.3,1471.25 1190.7,1416.25 1223.1,1567 1255.5,1521 1287.9,1486 1320.3,1427.5 1352.7,1573.75 1385.1,1492 1417.5,1450.5 1449.9,1415" fill="none" stroke="#808080" stroke-width="3.8" stroke-linejoin="round" stroke-dasharray="10.6 8.9" stroke-linecap="round"/>
<path d="M931.5 1584L937.5 1596L925.5 1596Z" fill="#808080"/>
<path d="M963.9 1557L969.9 1569L957.9 1569Z" fill="#808080"/>
<path d="M996.3 1475L1002.3 1487L990.3 1487Z" fill="#808080"/>
<path d="M1028.7 1417L1034.7 1429L1022.7 1429Z" fill="#808080"/>
<path d="M1061.1 1320.25L1067.1 1332.25L1055.1 1332.25Z" fill="#808080"/>
<path d="M1093.5 1560.25L1099.5 1572.25L1087.5 1572.25Z" fill="#808080"/>
<path d="M1125.9 1501L1131.9 1513L1119.9 1513Z" fill="#808080"/>
<path d="M1158.3 1465.25L1164.3 1477.25L1152.3 1477.25Z" fill="#808080"/>
<path d="M1190.7 1410.25L1196.7 1422.25L1184.7 1422.25Z" fill="#808080"/>
<path d="M1223.1 1561L1229.1 1573L1217.1 1573Z" fill="#808080"/>
<path d="M1255.5 1515L1261.5 1527L1249.5 1527Z" fill="#808080"/>
<path d="M1287.9 1480L1293.9 1492L1281.9 1492Z" fill="#808080"/>
<path d="M1320.3 1421.5L1326.3 1433.5L1314.3 1433.5Z" fill="#808080"/>
<path d="M1352.7 1567.75L1358.7 1579.75L1346.7 1579.75Z" fill="#808080"/>
<path d="M1385.1 1486L1391.1 1498L1379.1 1498Z" fill="#808080"/>
<path d="M1417.5 1444.5L1423.5 1456.5L1411.5 1456.5Z" fill="#808080"/>
<path d="M1449.9 1409L1455.9 1421L1443.9 1421Z" fill="#808080"/>
<path d="M931.5 1576.25V1603.75M927.4 1576.25H935.6M927.4 1603.75H935.6M963.9 1495.5V1552.5M959.8 1495.5H968M959.8 1552.5H968M996.3 1455V1504.25M992.2 1455H1000.4M992.2 1504.25H1000.4M1028.7 1442V1462.75M1024.6 1442H1032.8M1024.6 1462.75H1032.8M1061.1 1399.75V1435M1057 1399.75H1065.2M1057 1435H1065.2M1093.5 1515.25V1560.5M1089.4 1515.25H1097.6M1089.4 1560.5H1097.6M1125.9 1487.25V1536.75M1121.8 1487.25H1130M1121.8 1536.75H1130M1158.3 1470.5V1533.5M1154.2 1470.5H1162.4M1154.2 1533.5H1162.4M1190.7 1433.25V1484.5M1186.6 1433.25H1194.8M1186.6 1484.5H1194.8M1223.1 1527V1560.25M1219 1527H1227.2M1219 1560.25H1227.2M1255.5 1506V1533.25M1251.4 1506H1259.6M1251.4 1533.25H1259.6M1287.9 1477.75V1508.5M1283.8 1477.75H1292M1283.8 1508.5H1292M1320.3 1434.5V1504M1316.2 1434.5H1324.4M1316.2 1504H1324.4M1352.7 1496V1566.25M1348.6 1496H1356.8M1348.6 1566.25H1356.8M1385.1 1445.75V1538.75M1381 1445.75H1389.2M1381 1538.75H1389.2M1417.5 1427V1531.75M1413.4 1427H1421.6M1413.4 1531.75H1421.6M1449.9 1418.25V1523.25M1445.8 1418.25H1454M1445.8 1523.25H1454" stroke="#484848" stroke-width="1.25" fill="none"/>
<polyline points="931.5,1590 963.9,1524.25 996.3,1480 1028.7,1452.5 1061.1,1417.5 1093.5,1537.5 1125.9,1512 1158.3,1502.5 1190.7,1459.25 1223.1,1543.75 1255.5,1519.5 1287.9,1493 1320.3,1469.25 1352.7,1531.25 1385.1,1492.25 1417.5,1479.25 1449.9,1470" fill="none" stroke="#333333" stroke-width="4" stroke-linejoin="round"/>
<rect x="925.7" y="1584.2" width="11.6" height="11.6" fill="#333333"/>
<rect x="958.1" y="1518.45" width="11.6" height="11.6" fill="#333333"/>
<rect x="990.5" y="1474.2" width="11.6" height="11.6" fill="#333333"/>
<rect x="1022.9" y="1446.7" width="11.6" height="11.6" fill="#333333"/>
<rect x="1055.3" y="1411.7" width="11.6" height="11.6" fill="#333333"/>
<rect x="1087.7" y="1531.7" width="11.6" height="11.6" fill="#333333"/>
<rect x="1120.1" y="1506.2" width="11.6" height="11.6" fill="#333333"/>
<rect x="1152.5" y="1496.7" width="11.6" height="11.6" fill="#333333"/>
<rect x="1184.9" y="1453.45" width="11.6" height="11.6" fill="#333333"/>
<rect x="1217.3" y="1537.95" width="11.6" height="11.6" fill="#333333"/>
<rect x="1249.7" y="1513.7" width="11.6" height="11.6" fill="#333333"/>
<rect x="1282.1" y="1487.2" width="11.6" height="11.6" fill="#333333"/>
<rect x="1314.5" y="1463.45" width="11.6" height="11.6" fill="#333333"/>
<rect x="1346.9" y="1525.45" width="11.6" height="11.6" fill="#333333"/>
<rect x="1379.3" y="1486.45" width="11.6" height="11.6" fill="#333333"/>
<rect x="1411.7" y="1473.45" width="11.6" height="11.6" fill="#333333"/>
<rect x="1444.1" y="1464.2" width="11.6" height="11.6" fill="#333333"/>
<line x1="1227.4" y1="1228.25" x2="1266.6" y2="1228.25" stroke="#333333" stroke-width="3.8" stroke-linecap="round"/>
<rect x="1241.5" y="1222.5" width="11.5" height="11.5" fill="#333333"/>
<path d="M1366.55 1228.25H1377.65M1390.75 1228.25H1396.35M1403.7 1228.25H1405.7" stroke="#808080" stroke-width="3.7" stroke-linecap="round" fill="none"/>
<circle cx="1385.75" cy="1228.25" r="5.8" fill="#808080"/>
<text transform="translate(1274.4 1239.6) scale(0.7913 1)" font-size="32.4" fill="#000">CSTR</text>
<text transform="translate(1415.65 1237.6) scale(0.8247 1)" font-size="32.4" fill="#000" xml:space="preserve">CTL SUS</text>
</g>
<g id="pG">
<rect x="1" y="1746.3" width="761.6" height="548.6" fill="none" stroke="#555" stroke-width="1.3"/>
<text transform="translate(15 1785.49) scale(0.8907 1.0243)" font-size="31.3" fill="#000">G</text>
<path d="M123.6 1793.5V2195.3M120.7 2192.4H725.3M107.5 2152.8H123.6M107.5 2073.05H123.6M107.5 1993.3H123.6M107.5 1913.55H123.6M107.5 1833.8H123.6M155 2192.4V2208.3M218.06 2192.4V2208.3M281.12 2192.4V2208.3M344.18 2192.4V2208.3M407.24 2192.4V2208.3M470.3 2192.4V2208.3M533.36 2192.4V2208.3M596.42 2192.4V2208.3M659.48 2192.4V2208.3M722.54 2192.4V2208.3" stroke="#000" stroke-width="5.8" fill="none"/>
<text transform="translate(60.62 2164.1) scale(0.9698 1)" font-size="32.4" fill="#000">6.6</text>
<text transform="translate(60.62 2084.35) scale(0.9698 1)" font-size="32.4" fill="#000">6.8</text>
<text transform="translate(60.62 2004.6) scale(0.9698 1)" font-size="32.4" fill="#000">7.0</text>
<text transform="translate(60.62 1924.85) scale(0.9698 1)" font-size="32.4" fill="#000">7.2</text>
<text transform="translate(60.62 1845.1) scale(0.9698 1)" font-size="32.4" fill="#000">7.4</text>
<text transform="translate(146.16 2239.3) scale(0.9704 1)" font-size="32.4" fill="#000">0</text>
<text transform="translate(209.18 2239.3) scale(0.9704 1)" font-size="32.4" fill="#000">2</text>
<text transform="translate(272.2 2239.3) scale(0.9704 1)" font-size="32.4" fill="#000">4</text>
<text transform="translate(335.22 2239.3) scale(0.9704 1)" font-size="32.4" fill="#000">6</text>
<text transform="translate(398.24 2239.3) scale(0.9704 1)" font-size="32.4" fill="#000">8</text>
<text transform="translate(452.51 2239.3) scale(0.9704 1)" font-size="32.4" fill="#000">10</text>
<text transform="translate(515.53 2239.3) scale(0.9704 1)" font-size="32.4" fill="#000">12</text>
<text transform="translate(578.55 2239.3) scale(0.9704 1)" font-size="32.4" fill="#000">14</text>
<text transform="translate(641.57 2239.3) scale(0.9704 1)" font-size="32.4" fill="#000">16</text>
<text transform="translate(704.59 2239.3) scale(0.9704 1)" font-size="32.4" fill="#000">18</text>
<text font-size="31.3" fill="#000" xml:space="preserve"><tspan x="350.95" y="2276.3" font-size="31.3" textLength="64.2" lengthAdjust="spacingAndGlyphs">time</tspan><tspan> </tspan><tspan x="422.95" y="2275.3" font-size="31.3" textLength="10.58" lengthAdjust="spacingAndGlyphs">[</tspan><tspan x="433.53" y="2276.3" font-size="31.3" textLength="18.13" lengthAdjust="spacingAndGlyphs">d</tspan><tspan x="451.65" y="2275.3" font-size="31.3" textLength="10.58" lengthAdjust="spacingAndGlyphs">]</tspan></text>
<g transform="translate(46.8 2036.5) rotate(-90)">
<text font-size="31.3" fill="#000" xml:space="preserve"><tspan x="0" y="0" font-size="31.3" textLength="39.62" lengthAdjust="spacingAndGlyphs">pH</tspan></text>
</g>
<path d="M155 1873V1964.5M150.75 1873H159.25M150.75 1964.5H159.25M186.53 1862.25V1956M182.28 1862.25H190.78M182.28 1956H190.78M218.06 1914.5V1983.5M213.81 1914.5H222.31M213.81 1983.5H222.31M249.59 1921.25V2056.5M245.34 1921.25H253.84M245.34 2056.5H253.84M281.12 1960.5V2055.5M276.87 1960.5H285.37M276.87 2055.5H285.37M312.65 1853.75V1953.75M308.4 1853.75H316.9M308.4 1953.75H316.9M344.18 1916.75V2037.75M339.93 1916.75H348.43M339.93 2037.75H348.43M375.71 1976V2061.25M371.46 1976H379.96M371.46 2061.25H379.96M407.24 1994.75V2068.75M402.99 1994.75H411.49M402.99 2068.75H411.49M438.77 1879V1958.5M434.52 1879H443.02M434.52 1958.5H443.02M470.3 1916.5V2002.5M466.05 1916.5H474.55M466.05 2002.5H474.55M501.83 1981V2068.75M497.58 1981H506.08M497.58 2068.75H506.08M533.36 1997.5V2082.25M529.11 1997.5H537.61M529.11 2082.25H537.61M564.89 1831V1992.5M560.64 1831H569.14M560.64 1992.5H569.14M596.42 1901V2084.5M592.17 1901H600.67M592.17 2084.5H600.67M627.95 1965.5V2126M623.7 1965.5H632.2M623.7 2126H632.2M659.48 2003.25V2135M655.23 2003.25H663.73M655.23 2135H663.73" stroke="#484848" stroke-width="1.1" fill="none"/>
<polyline points="155,1918.5 186.53,1909 218.06,1949 249.59,1989 281.12,2008 312.65,1903.5 344.18,1977.25 375.71,2018.5 407.24,2032.25 438.77,1918.75 470.3,1959.75 501.83,2025 533.36,2040 564.89,1911.75 596.42,1992.75 627.95,2046.25 659.48,2069.25" fill="none" stroke="#333333" stroke-width="3.9" stroke-linejoin="round"/>
<rect x="148.7" y="1912.2" width="12.6" height="12.6" fill="#333333"/>
<rect x="180.23" y="1902.7" width="12.6" height="12.6" fill="#333333"/>
<rect x="211.76" y="1942.7" width="12.6" height="12.6" fill="#333333"/>
<rect x="243.29" y="1982.7" width="12.6" height="12.6" fill="#333333"/>
<rect x="274.82" y="2001.7" width="12.6" height="12.6" fill="#333333"/>
<rect x="306.35" y="1897.2" width="12.6" height="12.6" fill="#333333"/>
<rect x="337.88" y="1970.95" width="12.6" height="12.6" fill="#333333"/>
<rect x="369.41" y="2012.2" width="12.6" height="12.6" fill="#333333"/>
<rect x="400.94" y="2025.95" width="12.6" height="12.6" fill="#333333"/>
<rect x="432.47" y="1912.45" width="12.6" height="12.6" fill="#333333"/>
<rect x="464" y="1953.45" width="12.6" height="12.6" fill="#333333"/>
<rect x="495.53" y="2018.7" width="12.6" height="12.6" fill="#333333"/>
<rect x="527.06" y="2033.7" width="12.6" height="12.6" fill="#333333"/>
<rect x="558.59" y="1905.45" width="12.6" height="12.6" fill="#333333"/>
<rect x="590.12" y="1986.45" width="12.6" height="12.6" fill="#333333"/>
<rect x="621.65" y="2039.95" width="12.6" height="12.6" fill="#333333"/>
<rect x="653.18" y="2062.95" width="12.6" height="12.6" fill="#333333"/>
</g>
<g id="pH">
<rect x="795.55" y="1746" width="761.35" height="548.9" fill="none" stroke="#555" stroke-width="1.3"/>
<text transform="translate(809.89 1785.6) scale(0.9380 1.0449)" font-size="31.3" fill="#000">H</text>
<path d="M932.75 1800.6V2194.4M917.5 2191.5H1520.2M917.5 2113.9H932.75M917.5 2036.3H932.75M917.5 1958.7H932.75M917.5 1881.1H932.75M917.5 1803.5H932.75M963.25 2191.5V2207.1M1024.8 2191.5V2207.1M1086.35 2191.5V2207.1M1147.9 2191.5V2207.1M1209.45 2191.5V2207.1M1271 2191.5V2207.1M1332.55 2191.5V2207.1M1394.1 2191.5V2207.1M1455.65 2191.5V2207.1M1517.2 2191.5V2207.1" stroke="#000" stroke-width="5.8" fill="none"/>
<text transform="translate(893.51 2202.75) scale(0.9704 1)" font-size="32.4" fill="#000">0</text>
<text transform="translate(893.51 2124.9) scale(0.9704 1)" font-size="32.4" fill="#000">5</text>
<text transform="translate(876.03 2047.05) scale(0.9704 1)" font-size="32.4" fill="#000">10</text>
<text transform="translate(876.03 1969.2) scale(0.9704 1)" font-size="32.4" fill="#000">15</text>
<text transform="translate(876.03 1891.35) scale(0.9704 1)" font-size="32.4" fill="#000">20</text>
<text transform="translate(876.03 1813.5) scale(0.9704 1)" font-size="32.4" fill="#000">25</text>
<text transform="translate(954.86 2239.3) scale(0.9704 1)" font-size="32.4" fill="#000">0</text>
<text transform="translate(1016.41 2239.3) scale(0.9704 1)" font-size="32.4" fill="#000">2</text>
<text transform="translate(1077.96 2239.3) scale(0.9704 1)" font-size="32.4" fill="#000">4</text>
<text transform="translate(1139.51 2239.3) scale(0.9704 1)" font-size="32.4" fill="#000">6</text>
<text transform="translate(1201.06 2239.3) scale(0.9704 1)" font-size="32.4" fill="#000">8</text>
<text transform="translate(1253.86 2239.3) scale(0.9704 1)" font-size="32.4" fill="#000">10</text>
<text transform="translate(1315.41 2239.3) scale(0.9704 1)" font-size="32.4" fill="#000">12</text>
<text transform="translate(1376.96 2239.3) scale(0.9704 1)" font-size="32.4" fill="#000">14</text>
<text transform="translate(1438.51 2239.3) scale(0.9704 1)" font-size="32.4" fill="#000">16</text>
<text transform="translate(1500.06 2239.3) scale(0.9704 1)" font-size="32.4" fill="#000">18</text>
<text font-size="31.3" fill="#000" xml:space="preserve"><tspan x="1145.45" y="2276.3" font-size="31.3" textLength="64.2" lengthAdjust="spacingAndGlyphs">time</tspan><tspan> </tspan><tspan x="1217.45" y="2275.3" font-size="31.3" textLength="10.58" lengthAdjust="spacingAndGlyphs">[</tspan><tspan x="1228.03" y="2276.3" font-size="31.3" textLength="18.13" lengthAdjust="spacingAndGlyphs">d</tspan><tspan x="1246.15" y="2275.3" font-size="31.3" textLength="10.58" lengthAdjust="spacingAndGlyphs">]</tspan></text>
<g transform="translate(841.5 2163.3) rotate(-90)">
<text font-size="31.3" fill="#000" xml:space="preserve"><tspan x="0" y="0" font-size="31.3" textLength="238.1" lengthAdjust="spacingAndGlyphs">dissolved oxygen</tspan><tspan> </tspan><tspan x="245.9" y="-1" font-size="31.3" textLength="10.58" lengthAdjust="spacingAndGlyphs">[</tspan><tspan x="256.48" y="0" font-size="31.3" textLength="24.66" lengthAdjust="spacingAndGlyphs">%</tspan><tspan x="281.14" y="-1" font-size="31.3" textLength="10.58" lengthAdjust="spacingAndGlyphs">]</tspan></text>
</g>
<polyline points="967.64,1904.7 969.82,1904.04 971.46,1907.1 974.18,1906.55 976.37,1908.74 979.09,1910.92 982.37,1912.01 983.46,1909.83 984.88,1910.37 985.64,1918.56 986.73,1922.37 988.92,1922.92 991.1,1920.74 992.73,1924.01 996.01,1925.1 1000.92,1928.38 1003.65,1933.29 1005.28,1935.47 1006.7,1931.1 1008.01,1931.65 1009.65,1938.74 1011.83,1945.29 1014.01,1949.11 1016.19,1954.56 1019.47,1955.65 1020.56,1951.84 1021.98,1952.93 1023.07,1960.56 1025.47,1966.02 1029.83,1970.93 1034.2,1979.11 1038.34,1986.21 1039.65,1985.66 1040.31,1968.75 1041.29,1969.29 1042.38,1985.66 1044.02,1992.21 1045.65,1995.48 1047.29,1993.3 1048.16,1988.39 1049.47,1990.03 1051.11,1992.21 1052.75,1998.75 1054.93,2002.57 1059.29,2004.76 1062.57,2006.94 1066.39,2009.67 1070.21,2015.67 1074.57,2022.21 1077.3,2022.76 1078.93,2022.21 1080.03,2028.76 1081.12,2019.49 1082.21,2019.49 1083.3,2033.67 1084.94,2034.76 1085.48,2024.94 1102.39,1901.1 1103.49,1906.55 1106.21,1908.19 1108.94,1910.37 1111.67,1913.1 1113.85,1912.01 1115.49,1913.1 1117.12,1916.92 1119.85,1920.74 1122.58,1926.74 1125.85,1928.38 1130.04,1927.28 1132,1929.47 1134.73,1931.1 1137.46,1930.56 1139.09,1936.56 1141.28,1939.83 1143.46,1941.47 1145.1,1936.01 1147.82,1934.92 1150.01,1936.56 1151.64,1944.2 1154.92,1946.93 1158.19,1951.29 1162.01,1959.47 1165.28,1964.93 1168.01,1964.38 1169.65,1971.48 1172.37,1979.11 1174.01,1974.2 1175.87,1973.66 1177.28,1981.84 1180.01,1991.12 1183.29,1993.3 1185.47,2003.12 1188.2,2009.67 1190.38,2005.85 1192.02,2005.3 1193.32,2011.85 1196.38,2017.85 1199.65,2027.12 1204.02,2040.22 1224.75,1894.55 1226.39,1908.19 1228.02,1912.01 1231.84,1911.46 1235.12,1914.19 1237.84,1916.92 1239.48,1916.37 1242.21,1920.19 1246.03,1925.1 1248.75,1928.92 1250.39,1925.65 1252.03,1924.01 1253.66,1930.56 1256.39,1934.38 1259.12,1935.47 1261.85,1934.38 1264.03,1936.56 1266.21,1940.92 1270.03,1946.38 1273.31,1951.84 1276.58,1958.38 1278.76,1959.47 1279.53,1947.47 1280.55,1947.47 1281.64,1968.2 1283.27,1974.75 1285.46,1982.39 1288.18,1986.21 1290.91,1989.48 1293.64,1992.21 1295.28,1997.66 1298,2000.94 1300.73,2007.48 1303.46,2012.94 1306.19,2019.49 1307.82,2019.49 1309.46,2011.85 1311.1,1999.85 1312.73,1999.85 1313.83,2012.94 1315.46,2027.12 1317.1,2035.85 1319.28,2040.76 1321.46,2046.22 1323.65,2048.95 1325.83,2048.4 1328.01,2050.04 1330.74,2051.68 1332.37,2051.13 1347.87,1901.64 1349.83,1915.83 1351.47,1924.01 1354.2,1922.37 1356.38,1922.16 1358.56,1923.47 1360.53,1925.65 1361.62,1931.65 1363.8,1934.38 1366.2,1934.38 1367.84,1940.92 1370.02,1942.89 1372.75,1944.2 1374.71,1948.56 1378.2,1949.65 1380.93,1953.47 1384.2,1955.65 1387.48,1957.84 1389.11,1962.2 1391.84,1964.93 1394.02,1969.29 1396.75,1973.66 1399.48,1977.48 1401.12,1975.84 1402.75,1975.62 1403.84,1983.48 1405.48,1985.66 1407.12,1983.48 1407.88,1967.11 1409.3,1966.02 1410.94,1973.66 1412.57,1987.84 1414.21,1995.48 1416.94,1999.3 1419.12,2002.57 1421.85,2006.39 1425.12,2009.12 1428.4,2010.21 1431.12,2010.76 1432.76,2010.21 1433.85,2016.21 1434.94,2021.12 1437.12,2023.85 1439.31,2024.94 1440.94,2011.85 1441.71,2000.94 1443.13,2000.94 1444.22,2011.85 1445.31,2026.03 1446.94,2031.49 1450,2033.67 1451.83,2034.22 1453.47,2036.94 1454.78,2035.64" fill="none" stroke="#333333" stroke-width="4" stroke-linejoin="miter" stroke-miterlimit="3"/>
<polyline points="968.18,1895.97 969.82,1896.73 972.55,1897.28 975.28,1900.55 977.46,1901.1 979.64,1903.28 980.73,1906.55 981.28,1901.64 982.37,1904.92 983.13,1891.82 983.79,1882.88 984.88,1891.82 986.19,1906.01 987.28,1912.01 988.92,1908.74 991.1,1911.46 994.92,1913.65 997.64,1911.25 999.83,1912.55 1003.65,1914.19 1004.74,1916.92 1006.05,1915.83 1006.92,1907.64 1008.23,1914.19 1010.19,1917.46 1012.37,1921.28 1013.47,1920.41 1014.56,1924.56 1015.87,1936.56 1017.28,1930.56 1018.92,1927.61 1020.01,1928.92 1021.32,1921.28 1022.41,1931.65 1024.38,1930.56 1026.01,1932.74 1027.43,1930.89 1029.83,1933.29 1032.56,1934.38 1034.2,1936.01 1035.29,1935.47 1037.69,1938.74 1039.11,1942.56 1040.2,1948.56 1041.84,1949.65 1044.02,1948.34 1045.65,1952.38 1047.29,1954.56 1048.16,1952.38 1049.69,1957.84 1050.89,1955.11 1052.2,1961.66 1053.62,1968.75 1054.93,1972.02 1057.11,1974.75 1059.29,1978.02 1061.48,1982.39 1063.11,1987.3 1065.3,1992.21 1067.48,1997.66 1069.66,2003.12 1071.3,2008.03 1073.48,2012.39 1075.12,2015.12 1076.21,2011.85 1076.97,1998.75 1077.84,1987.3 1079.15,1996.57 1080.03,2004.76 1081.34,1984.02 1082.75,2002.57 1083.84,2010.76 1085.48,2002.03 1102.94,1883.09 1104.58,1896.73 1106.21,1897.28 1108.18,1896.19 1109.27,1898.59 1111.12,1896.73 1112.21,1894.55 1113.63,1896.73 1114.72,1900.55 1116.25,1898.15 1117.67,1900.01 1119.31,1900.77 1120,1901.64 1121.31,1902.73 1122.73,1908.74 1125.46,1910.37 1127.64,1912.01 1129.27,1916.92 1130.91,1920.41 1133.09,1919.65 1135.28,1922.37 1136.37,1912.01 1138,1920.19 1139.64,1929.47 1141.82,1932.74 1143.79,1935.47 1145.31,1927.28 1146.73,1930.01 1148.15,1923.25 1149.68,1927.83 1151.1,1929.79 1152.73,1934.38 1154.37,1932.74 1156.01,1933.5 1159.28,1933.83 1162.01,1938.2 1164.19,1938.96 1165.83,1941.47 1167.46,1945.29 1169.65,1944.2 1171.28,1942.56 1173.68,1944.2 1174.56,1933.29 1175.32,1925.43 1176.74,1932.74 1178.38,1942.02 1180.01,1946.93 1181.32,1948.56 1182.74,1942.23 1184.38,1947.47 1186.01,1957.84 1187.65,1960.02 1190.38,1961.66 1191.8,1967.66 1192.89,1966.02 1195.29,1967.11 1196.93,1968.75 1198.34,1972.02 1199.65,1970.39 1201.84,1972.57 1204.56,1976.39 1225.3,1886.91 1226.39,1900.01 1229.11,1899.46 1231.08,1896.19 1232.61,1899.46 1234.02,1896.19 1235.66,1898.59 1236.97,1900.77 1238.93,1898.92 1240.57,1900.55 1243.3,1904.37 1246.03,1904.04 1247.66,1907.64 1249.3,1908.74 1250.61,1910.37 1251.81,1896.73 1252.9,1902.73 1254.21,1913.65 1255.85,1920.19 1257.48,1922.92 1259.67,1923.47 1262.94,1925.65 1265.67,1927.28 1267.3,1929.47 1269.27,1930.23 1270.58,1934.38 1272.76,1936.78 1274.94,1940.92 1277.12,1945.29 1278.76,1945.29 1280,1934.38 1281.09,1946.38 1282.73,1956.2 1284.15,1952.93 1285.46,1959.47 1286.77,1967.66 1288.73,1971.48 1290.91,1973.11 1292.55,1975.3 1294.4,1975.84 1296.15,1981.3 1298.55,1983.48 1300.73,1986.75 1302.37,1990.03 1304.01,1991.66 1305.64,1995.48 1307.06,1997.66 1308.15,1983.48 1308.92,1978.02 1310.01,1986.75 1311.1,1958.93 1312.52,1980.21 1313.61,1981.84 1314.92,1979.11 1317.64,1978.9 1319.28,1981.3 1321.46,1984.02 1323.65,1986.21 1324.96,1982.39 1326.05,1981.84 1327.79,1984.57 1329.65,1985.66 1331.5,1987.84 1348.2,1895.64 1350.92,1919.1 1352.56,1918.56 1354.2,1917.14 1355.51,1915.28 1356.93,1915.83 1358.34,1913.65 1359.44,1919.65 1360.96,1911.46 1362.93,1913.1 1364.56,1915.83 1366.2,1912.01 1367.62,1918.01 1368.93,1914.52 1370.35,1915.83 1372.2,1922.37 1374.06,1929.47 1375.15,1930.01 1376.57,1923.25 1377.98,1925.65 1379.51,1930.89 1381.48,1933.29 1383.44,1931.1 1385.3,1931.65 1386.71,1929.47 1388.02,1934.38 1389.99,1934.92 1391.84,1936.34 1393.26,1938.2 1394.57,1936.56 1395.88,1940.92 1397.63,1942.23 1399.15,1941.47 1400.57,1942.56 1401.88,1929.47 1403.08,1946.38 1404.39,1953.47 1405.7,1938.52 1407.12,1942.02 1408.75,1943.65 1410.39,1948.02 1412.57,1945.83 1414.76,1945.07 1416.39,1946.38 1418.03,1946.93 1419.88,1950.2 1421.85,1949.11 1423.49,1946.38 1425.12,1950.53 1426.21,1945.29 1427.52,1938.2 1428.94,1942.56 1430.36,1946.93 1431.45,1923.25 1432.76,1935.47 1434.07,1952.38 1435.49,1954.56 1437.12,1958.38 1438.76,1956.75 1440.4,1956.2 1441.82,1976.93 1443.13,1969.29 1444.22,1960.56 1445.64,1954.02 1447.49,1954.24 1450,1954.02 1450.74,1956.2 1452.16,1957.84 1453.47,1954.56" fill="none" stroke="#4a4a4a" stroke-width="1.2" stroke-linejoin="round"/>
<polyline points="968.18,1913.65 969.82,1912.01 970.91,1914.74 972.55,1921.28 973.64,1910.92 974.73,1914.74 976.91,1919.1 979.09,1917.46 980.73,1919.1 982.37,1922.92 983.79,1932.74 985.1,1929.47 987.28,1929.47 988.15,1933.29 988.92,1943.65 990.55,1929.47 991.64,1928.92 992.73,1937.65 994.04,1938.74 995.46,1935.69 996.55,1939.29 998.19,1942.02 1000.92,1943.98 1002.55,1949.11 1004.19,1953.47 1005.83,1957.07 1006.92,1949.87 1008.01,1954.02 1009.65,1963.84 1011.28,1970.39 1012.92,1975.3 1014.56,1977.48 1016.19,1974.75 1017.28,1979.11 1018.92,1984.57 1019.79,1985.44 1021.1,1980.75 1022.2,1987.84 1023.83,1996.03 1025.47,2000.39 1027.65,2006.39 1030.38,2010.21 1032.02,2017.3 1034.2,2022.21 1036.38,2028.22 1039.11,2034.98 1039.65,2022.76 1040.42,1995.48 1041.29,2011.85 1042.38,2026.03 1043.8,2038.04 1045.11,2039.35 1046.75,2036.94 1048.16,2022.76 1049.47,2026.03 1052.2,2033.13 1054.93,2031.82 1057.11,2031.49 1058.75,2030.62 1060.93,2030.18 1062.57,2027.12 1065.3,2024.94 1066.39,2022.21 1069.11,2022.76 1071.3,2023.31 1072.93,2027.12 1074.57,2031.49 1076.21,2036.94 1077.63,2051.68 1078.93,2054.4 1079.81,2057.46 1081.34,2050.58 1082.75,2055.49 1083.84,2061.5 1085.48,2050.04 1101.63,1912.01 1102.94,1918.01 1104.58,1919.1 1106.21,1918.01 1107.85,1921.28 1110.03,1925.1 1111.89,1932.74 1113.31,1931.1 1114.72,1922.16 1116.03,1931.1 1117.12,1936.56 1118.76,1938.2 1119.96,1941.47 1120,1941.47 1121.64,1944.74 1123.82,1946.93 1126.55,1945.29 1128.51,1939.29 1129.82,1940.38 1131.24,1936.78 1132.55,1939.83 1134.73,1942.56 1136.59,1945.83 1138,1943.65 1140.19,1945.83 1142.91,1948.34 1144.55,1946.38 1146.19,1939.83 1147.82,1939.83 1148.92,1944.2 1150.55,1951.84 1152.19,1957.29 1153.83,1961.11 1156.01,1964.93 1158.19,1968.75 1159.83,1974.75 1162.01,1980.21 1164.19,1985.66 1166.05,1990.57 1167.25,1979.11 1168.56,1990.03 1170.19,2000.94 1171.28,2010.76 1173.47,2016.76 1175.65,2020.03 1177.83,2026.03 1180.01,2031.49 1182.2,2040.22 1184.38,2045.67 1186.56,2051.13 1189.29,2058.77 1190.38,2057.13 1191.69,2038.91 1193.11,2057.68 1194.74,2060.4 1196.38,2066.41 1198.02,2072.95 1199.65,2081.68 1201.84,2092.59 1204.56,2099.69 1224.42,1907.1 1225.3,1906.01 1226.39,1915.28 1227.48,1921.28 1229.11,1925.65 1230.42,1928.38 1232.39,1924.01 1233.7,1928.92 1235.66,1930.56 1237.84,1934.38 1240.03,1936.01 1242.21,1938.74 1244.39,1941.47 1246.03,1944.74 1247.66,1945.83 1248.97,1949.65 1250.72,1942.02 1252.03,1946.38 1254.21,1948.34 1255.85,1947.47 1257.48,1948.02 1259.67,1948.34 1260.98,1950.2 1262.18,1941.47 1263.49,1946.38 1265.12,1950.74 1266.76,1954.02 1268.94,1957.29 1271.12,1958.38 1272.76,1961.66 1274.94,1968.2 1277.12,1970.39 1278.76,1973.66 1280,1968.2 1281.09,1982.39 1282.18,1991.12 1283.82,1996.57 1285.46,1999.3 1287.42,1998.75 1289.27,2000.94 1290.91,2005.3 1293.09,2006.94 1294.4,2011.85 1295.82,2016.76 1298,2018.94 1299.64,2026.03 1301.82,2030.94 1304.01,2038.04 1306.19,2043.49 1308.37,2050.04 1309.68,2041.31 1310.33,2036.4 1311.32,2042.4 1312.19,2020.58 1312.95,2031.49 1313.61,2048.95 1314.92,2071.86 1316.23,2088.23 1317.64,2094.78 1319.28,2098.59 1320.92,2104.6 1323.1,2108.41 1325.28,2108.96 1327.46,2111.14 1329.65,2113.87 1331.5,2116.6 1347.43,1921.28 1350.38,1931.98 1352.56,1929.79 1354.74,1926.74 1356.38,1928.92 1358.02,1936.01 1359.44,1931.1 1360.53,1952.38 1361.84,1950.74 1363.47,1955.11 1365.11,1952.93 1366.75,1957.29 1367.84,1962.75 1368.93,1973.11 1370.35,1967.66 1371.44,1967.11 1372.53,1960.02 1374.06,1966.02 1376.02,1975.84 1377.66,1969.51 1379.29,1972.02 1381.48,1975.3 1383.66,1979.66 1385.84,1983.48 1387.48,1988.39 1389.66,1991.66 1391.3,1994.39 1392.93,2000.39 1394.57,2004.21 1396.53,2008.03 1398.06,2006.39 1399.48,2016.76 1400.57,2018.94 1402.75,2016.21 1404.39,2020.58 1406.03,2025.49 1407.12,2027.67 1407.88,2006.39 1408.75,1987.3 1409.85,1987.84 1410.94,2006.39 1412.03,2028.22 1413.12,2042.4 1414.43,2048.95 1415.85,2052.77 1418.03,2055.49 1419.67,2060.4 1421.85,2066.41 1424.03,2071.86 1426.21,2076.23 1427.85,2078.41 1429.49,2083.32 1431.12,2087.14 1432.21,2092.59 1433.85,2093.14 1435.49,2092.59 1437.67,2094.78 1439.53,2095.87 1440.94,2094.78 1441.49,2055.49 1442.25,2024.94 1443.13,2033.67 1444.22,2077.32 1445.31,2110.05 1446.4,2114.42 1448.58,2116.05 1450,2116.82 1451.29,2115.51 1453.47,2117.47" fill="none" stroke="#4a4a4a" stroke-width="1.2" stroke-linejoin="round"/>
<line x1="1386.3" y1="1802.8" x2="1432.5" y2="1802.8" stroke="#333333" stroke-width="5"/>
<line x1="1386.3" y1="1841.8" x2="1432.5" y2="1841.8" stroke="#4a4a4a" stroke-width="1.2"/>
<text transform="translate(1443.4 1811.3) scale(0.9462 1)" font-size="32.4" fill="#000">MEAN</text>
<text transform="translate(1444.5 1852.1) scale(0.8238 1)" font-size="32.4" fill="#000">SD</text>
</g>
</svg></body></html>
